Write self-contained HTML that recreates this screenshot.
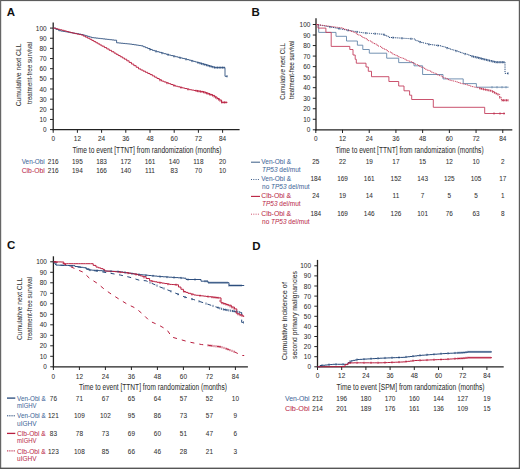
<!DOCTYPE html>
<html><head><meta charset="utf-8"><style>
html,body{margin:0;padding:0;background:#fff;width:520px;height:469px;overflow:hidden}
svg text{font-family:"Liberation Sans",sans-serif}
</style></head><body>
<svg width="520" height="469" viewBox="0 0 520 469" style="display:block"><rect x="0" y="0" width="520" height="1.1" fill="#5c5c5c"/>
<rect x="0" y="0" width="1.2" height="469" fill="#666"/>
<rect x="518.8" y="0" width="1.2" height="469" fill="#5c5c5c"/>
<rect x="0" y="467.6" width="520" height="1.4" fill="#555"/>
<text x="6.8" y="16.1" font-size="11.5" font-weight="bold" fill="#111" textLength="8.3" lengthAdjust="spacingAndGlyphs">A</text>
<text x="251.6" y="16.2" font-size="11.5" font-weight="bold" fill="#111" textLength="8.3" lengthAdjust="spacingAndGlyphs">B</text>
<text x="7.0" y="249.0" font-size="11.5" font-weight="bold" fill="#111" textLength="8.3" lengthAdjust="spacingAndGlyphs">C</text>
<text x="252.2" y="250.0" font-size="11.5" font-weight="bold" fill="#111" textLength="8.3" lengthAdjust="spacingAndGlyphs">D</text>
<line x1="53.20" y1="22.40" x2="53.20" y2="130.20" stroke="#222" stroke-width="1.3" />
<line x1="52.60" y1="129.60" x2="239.60" y2="129.60" stroke="#222" stroke-width="1.3" />
<line x1="50.00" y1="129.60" x2="53.20" y2="129.60" stroke="#222" stroke-width="1.0" />
<text x="46.60" y="132.10" font-size="7.0" fill="#303030" stroke="#303030" stroke-width="0.05" text-anchor="end" font-weight="normal" font-style="normal" textLength="3.58" lengthAdjust="spacingAndGlyphs">0</text>
<line x1="50.00" y1="119.45" x2="53.20" y2="119.45" stroke="#222" stroke-width="1.0" />
<text x="46.60" y="121.95" font-size="7.0" fill="#303030" stroke="#303030" stroke-width="0.05" text-anchor="end" font-weight="normal" font-style="normal" textLength="7.16" lengthAdjust="spacingAndGlyphs">10</text>
<line x1="50.00" y1="109.30" x2="53.20" y2="109.30" stroke="#222" stroke-width="1.0" />
<text x="46.60" y="111.80" font-size="7.0" fill="#303030" stroke="#303030" stroke-width="0.05" text-anchor="end" font-weight="normal" font-style="normal" textLength="7.16" lengthAdjust="spacingAndGlyphs">20</text>
<line x1="50.00" y1="99.15" x2="53.20" y2="99.15" stroke="#222" stroke-width="1.0" />
<text x="46.60" y="101.65" font-size="7.0" fill="#303030" stroke="#303030" stroke-width="0.05" text-anchor="end" font-weight="normal" font-style="normal" textLength="7.16" lengthAdjust="spacingAndGlyphs">30</text>
<line x1="50.00" y1="89.00" x2="53.20" y2="89.00" stroke="#222" stroke-width="1.0" />
<text x="46.60" y="91.50" font-size="7.0" fill="#303030" stroke="#303030" stroke-width="0.05" text-anchor="end" font-weight="normal" font-style="normal" textLength="7.16" lengthAdjust="spacingAndGlyphs">40</text>
<line x1="50.00" y1="78.85" x2="53.20" y2="78.85" stroke="#222" stroke-width="1.0" />
<text x="46.60" y="81.35" font-size="7.0" fill="#303030" stroke="#303030" stroke-width="0.05" text-anchor="end" font-weight="normal" font-style="normal" textLength="7.16" lengthAdjust="spacingAndGlyphs">50</text>
<line x1="50.00" y1="68.70" x2="53.20" y2="68.70" stroke="#222" stroke-width="1.0" />
<text x="46.60" y="71.20" font-size="7.0" fill="#303030" stroke="#303030" stroke-width="0.05" text-anchor="end" font-weight="normal" font-style="normal" textLength="7.16" lengthAdjust="spacingAndGlyphs">60</text>
<line x1="50.00" y1="58.55" x2="53.20" y2="58.55" stroke="#222" stroke-width="1.0" />
<text x="46.60" y="61.05" font-size="7.0" fill="#303030" stroke="#303030" stroke-width="0.05" text-anchor="end" font-weight="normal" font-style="normal" textLength="7.16" lengthAdjust="spacingAndGlyphs">70</text>
<line x1="50.00" y1="48.40" x2="53.20" y2="48.40" stroke="#222" stroke-width="1.0" />
<text x="46.60" y="50.90" font-size="7.0" fill="#303030" stroke="#303030" stroke-width="0.05" text-anchor="end" font-weight="normal" font-style="normal" textLength="7.16" lengthAdjust="spacingAndGlyphs">80</text>
<line x1="50.00" y1="38.25" x2="53.20" y2="38.25" stroke="#222" stroke-width="1.0" />
<text x="46.60" y="40.75" font-size="7.0" fill="#303030" stroke="#303030" stroke-width="0.05" text-anchor="end" font-weight="normal" font-style="normal" textLength="7.16" lengthAdjust="spacingAndGlyphs">90</text>
<line x1="50.00" y1="28.10" x2="53.20" y2="28.10" stroke="#222" stroke-width="1.0" />
<text x="46.60" y="30.60" font-size="7.0" fill="#303030" stroke="#303030" stroke-width="0.05" text-anchor="end" font-weight="normal" font-style="normal" textLength="10.74" lengthAdjust="spacingAndGlyphs">100</text>
<line x1="53.20" y1="129.60" x2="53.20" y2="132.80" stroke="#222" stroke-width="1.0" />
<text x="53.20" y="141.00" font-size="7.0" fill="#303030" stroke="#303030" stroke-width="0.05" text-anchor="middle" font-weight="normal" font-style="normal" textLength="3.58" lengthAdjust="spacingAndGlyphs">0</text>
<line x1="77.40" y1="129.60" x2="77.40" y2="132.80" stroke="#222" stroke-width="1.0" />
<text x="77.40" y="141.00" font-size="7.0" fill="#303030" stroke="#303030" stroke-width="0.05" text-anchor="middle" font-weight="normal" font-style="normal" textLength="7.16" lengthAdjust="spacingAndGlyphs">12</text>
<line x1="101.60" y1="129.60" x2="101.60" y2="132.80" stroke="#222" stroke-width="1.0" />
<text x="101.60" y="141.00" font-size="7.0" fill="#303030" stroke="#303030" stroke-width="0.05" text-anchor="middle" font-weight="normal" font-style="normal" textLength="7.16" lengthAdjust="spacingAndGlyphs">24</text>
<line x1="125.80" y1="129.60" x2="125.80" y2="132.80" stroke="#222" stroke-width="1.0" />
<text x="125.80" y="141.00" font-size="7.0" fill="#303030" stroke="#303030" stroke-width="0.05" text-anchor="middle" font-weight="normal" font-style="normal" textLength="7.16" lengthAdjust="spacingAndGlyphs">36</text>
<line x1="150.00" y1="129.60" x2="150.00" y2="132.80" stroke="#222" stroke-width="1.0" />
<text x="150.00" y="141.00" font-size="7.0" fill="#303030" stroke="#303030" stroke-width="0.05" text-anchor="middle" font-weight="normal" font-style="normal" textLength="7.16" lengthAdjust="spacingAndGlyphs">48</text>
<line x1="174.20" y1="129.60" x2="174.20" y2="132.80" stroke="#222" stroke-width="1.0" />
<text x="174.20" y="141.00" font-size="7.0" fill="#303030" stroke="#303030" stroke-width="0.05" text-anchor="middle" font-weight="normal" font-style="normal" textLength="7.16" lengthAdjust="spacingAndGlyphs">60</text>
<line x1="198.40" y1="129.60" x2="198.40" y2="132.80" stroke="#222" stroke-width="1.0" />
<text x="198.40" y="141.00" font-size="7.0" fill="#303030" stroke="#303030" stroke-width="0.05" text-anchor="middle" font-weight="normal" font-style="normal" textLength="7.16" lengthAdjust="spacingAndGlyphs">72</text>
<line x1="222.60" y1="129.60" x2="222.60" y2="132.80" stroke="#222" stroke-width="1.0" />
<text x="222.60" y="141.00" font-size="7.0" fill="#303030" stroke="#303030" stroke-width="0.05" text-anchor="middle" font-weight="normal" font-style="normal" textLength="7.16" lengthAdjust="spacingAndGlyphs">84</text>
<text x="21.40" y="106.30" font-size="7.8" fill="#303030" stroke="#303030" stroke-width="0.05" text-anchor="start" font-weight="normal" font-style="normal" textLength="62.80" lengthAdjust="spacingAndGlyphs" transform="rotate(-90 21.40 106.30)">Cumulative next CLL</text>
<text x="32.10" y="104.10" font-size="7.8" fill="#303030" stroke="#303030" stroke-width="0.05" text-anchor="start" font-weight="normal" font-style="normal" textLength="62.30" lengthAdjust="spacingAndGlyphs" transform="rotate(-90 32.10 104.10)">treatment-free survival</text>
<text x="72.50" y="152.60" font-size="8.5" fill="#303030" stroke="#303030" stroke-width="0.05" text-anchor="start" font-weight="normal" font-style="normal" textLength="149.00" lengthAdjust="spacingAndGlyphs">Time to event [TTNT] from randomization (months)</text>
<text x="21.70" y="163.60" font-size="7.0" fill="#44689a" stroke="#44689a" stroke-width="0.05" text-anchor="start" font-weight="normal" font-style="normal" textLength="23.10" lengthAdjust="spacingAndGlyphs">Ven-Obi</text>
<text x="21.70" y="173.00" font-size="7.0" fill="#bb2e4c" stroke="#bb2e4c" stroke-width="0.05" text-anchor="start" font-weight="normal" font-style="normal" textLength="23.10" lengthAdjust="spacingAndGlyphs">Clb-Obi</text>
<text x="53.20" y="163.60" font-size="7.0" fill="#303030" stroke="#303030" stroke-width="0.05" text-anchor="middle" font-weight="normal" font-style="normal" textLength="10.74" lengthAdjust="spacingAndGlyphs">216</text>
<text x="53.20" y="173.00" font-size="7.0" fill="#303030" stroke="#303030" stroke-width="0.05" text-anchor="middle" font-weight="normal" font-style="normal" textLength="10.74" lengthAdjust="spacingAndGlyphs">216</text>
<text x="77.40" y="163.60" font-size="7.0" fill="#303030" stroke="#303030" stroke-width="0.05" text-anchor="middle" font-weight="normal" font-style="normal" textLength="10.74" lengthAdjust="spacingAndGlyphs">195</text>
<text x="77.40" y="173.00" font-size="7.0" fill="#303030" stroke="#303030" stroke-width="0.05" text-anchor="middle" font-weight="normal" font-style="normal" textLength="10.74" lengthAdjust="spacingAndGlyphs">194</text>
<text x="101.60" y="163.60" font-size="7.0" fill="#303030" stroke="#303030" stroke-width="0.05" text-anchor="middle" font-weight="normal" font-style="normal" textLength="10.74" lengthAdjust="spacingAndGlyphs">183</text>
<text x="101.60" y="173.00" font-size="7.0" fill="#303030" stroke="#303030" stroke-width="0.05" text-anchor="middle" font-weight="normal" font-style="normal" textLength="10.74" lengthAdjust="spacingAndGlyphs">166</text>
<text x="125.80" y="163.60" font-size="7.0" fill="#303030" stroke="#303030" stroke-width="0.05" text-anchor="middle" font-weight="normal" font-style="normal" textLength="10.74" lengthAdjust="spacingAndGlyphs">172</text>
<text x="125.80" y="173.00" font-size="7.0" fill="#303030" stroke="#303030" stroke-width="0.05" text-anchor="middle" font-weight="normal" font-style="normal" textLength="10.74" lengthAdjust="spacingAndGlyphs">140</text>
<text x="150.00" y="163.60" font-size="7.0" fill="#303030" stroke="#303030" stroke-width="0.05" text-anchor="middle" font-weight="normal" font-style="normal" textLength="10.74" lengthAdjust="spacingAndGlyphs">161</text>
<text x="150.00" y="173.00" font-size="7.0" fill="#303030" stroke="#303030" stroke-width="0.05" text-anchor="middle" font-weight="normal" font-style="normal" textLength="9.79" lengthAdjust="spacingAndGlyphs">111</text>
<text x="174.20" y="163.60" font-size="7.0" fill="#303030" stroke="#303030" stroke-width="0.05" text-anchor="middle" font-weight="normal" font-style="normal" textLength="10.74" lengthAdjust="spacingAndGlyphs">140</text>
<text x="174.20" y="173.00" font-size="7.0" fill="#303030" stroke="#303030" stroke-width="0.05" text-anchor="middle" font-weight="normal" font-style="normal" textLength="7.16" lengthAdjust="spacingAndGlyphs">83</text>
<text x="198.40" y="163.60" font-size="7.0" fill="#303030" stroke="#303030" stroke-width="0.05" text-anchor="middle" font-weight="normal" font-style="normal" textLength="10.27" lengthAdjust="spacingAndGlyphs">118</text>
<text x="198.40" y="173.00" font-size="7.0" fill="#303030" stroke="#303030" stroke-width="0.05" text-anchor="middle" font-weight="normal" font-style="normal" textLength="7.16" lengthAdjust="spacingAndGlyphs">70</text>
<text x="222.60" y="163.60" font-size="7.0" fill="#303030" stroke="#303030" stroke-width="0.05" text-anchor="middle" font-weight="normal" font-style="normal" textLength="7.16" lengthAdjust="spacingAndGlyphs">20</text>
<text x="222.60" y="173.00" font-size="7.0" fill="#303030" stroke="#303030" stroke-width="0.05" text-anchor="middle" font-weight="normal" font-style="normal" textLength="7.16" lengthAdjust="spacingAndGlyphs">10</text>
<path d="M53.20,28.10 H55.95 V29.40 H58.70 V30.70 H60.94 V31.08 H63.18 V31.46 H65.42 V31.84 H67.66 V32.22 H69.90 V32.60 H72.14 V32.98 H74.38 V33.36 H76.62 V33.74 H78.86 V34.12 H81.10 V34.50 H83.18 V35.12 H85.26 V35.74 H87.34 V36.36 H89.42 V36.98 H91.50 V37.60 H93.75 V37.86 H96.00 V38.12 H98.25 V38.38 H100.50 V38.64 H102.75 V38.90 H105.00 V39.16 H107.25 V39.42 H109.50 V39.68 H111.75 V39.94 H114.00 V40.20 H116.60 V42.80 H118.77 V43.02 H120.93 V43.23 H123.10 V43.45 H125.27 V43.67 H127.43 V43.88 H129.60 V44.10 H131.84 V44.44 H134.08 V44.78 H136.32 V45.12 H138.56 V45.46 H140.80 V45.80 H143.10 V46.72 H145.40 V47.64 H147.70 V48.56 H150.00 V49.48 H152.30 V50.40 H154.61 V51.06 H156.93 V51.71 H159.24 V52.37 H161.56 V53.03 H163.87 V53.69 H166.19 V54.34 H168.50 V55.00 H170.81 V55.58 H173.12 V56.15 H175.44 V56.73 H177.75 V57.30 H180.06 V57.88 H182.38 V58.45 H184.69 V59.02 H187.00 V59.60 H189.10 V60.20 H191.20 V60.80 H193.30 V61.40 H195.40 V62.00 H197.50 V62.60 H199.60 V63.20 H201.70 V63.80 H203.80 V64.40 H205.96 V65.04 H208.12 V65.68 H210.28 V66.32 H212.44 V66.96 H214.60 V67.60 H225.00 V76.3 H227.4" fill="none" stroke="#26497a" stroke-width="0.85" stroke-linejoin="miter" />
<path d="M53.20,28.10 H55.50 V28.70 H57.80 V29.30 H59.90 V29.80 H62.00 V30.30 H64.20 V30.90 H66.40 V31.50 H68.60 V32.10 H70.80 V32.70 H72.86 V33.16 H74.92 V33.62 H76.98 V34.08 H79.04 V34.54 H81.10 V35.00 H83.27 V36.08 H85.45 V37.15 H87.62 V38.22 H89.80 V39.30 H91.82 V40.45 H93.83 V41.60 H95.85 V42.75 H97.87 V43.90 H99.88 V45.05 H101.90 V46.20 H104.32 V47.58 H106.74 V48.96 H109.16 V50.34 H111.58 V51.72 H114.00 V53.10 H116.08 V54.32 H118.16 V55.54 H120.24 V56.76 H122.32 V57.98 H124.40 V59.20 H126.75 V60.82 H129.10 V62.43 H131.45 V64.05 H133.80 V65.67 H136.15 V67.28 H138.50 V68.90 H140.80 V70.04 H143.10 V71.18 H145.40 V72.32 H147.70 V73.46 H150.00 V74.60 H152.32 V75.90 H154.64 V77.20 H156.96 V78.50 H159.28 V79.80 H161.60 V81.10 H163.90 V81.95 H166.20 V82.80 H168.50 V83.65 H170.80 V84.50 H173.10 V85.35 H175.40 V86.20 H177.72 V86.78 H180.03 V87.37 H182.35 V87.95 H184.67 V88.53 H186.98 V89.12 H189.30 V89.70 H191.60 V90.08 H193.90 V90.47 H196.20 V90.85 H198.50 V91.23 H200.80 V91.62 H203.10 V92.00 H205.43 V92.85 H207.75 V93.70 H210.07 V94.55 H212.40 V95.40 H214.70 V96.93 H217.00 V98.47 H219.30 V100.00 H221.60 V102.40 H227.40" fill="none" stroke="#b91f3f" stroke-width="0.95" stroke-linejoin="miter" />
<line x1="150.00" y1="48.38" x2="150.00" y2="50.58" stroke="#26497a" stroke-width="0.8"/>
<line x1="156.00" y1="50.35" x2="156.00" y2="52.55" stroke="#26497a" stroke-width="0.8"/>
<line x1="162.00" y1="52.05" x2="162.00" y2="54.25" stroke="#26497a" stroke-width="0.8"/>
<line x1="168.00" y1="53.76" x2="168.00" y2="55.96" stroke="#26497a" stroke-width="0.8"/>
<line x1="174.00" y1="55.27" x2="174.00" y2="57.47" stroke="#26497a" stroke-width="0.8"/>
<line x1="180.00" y1="56.76" x2="180.00" y2="58.96" stroke="#26497a" stroke-width="0.8"/>
<line x1="186.00" y1="58.25" x2="186.00" y2="60.45" stroke="#26497a" stroke-width="0.8"/>
<line x1="192.00" y1="59.93" x2="192.00" y2="62.13" stroke="#26497a" stroke-width="0.8"/>
<line x1="198.00" y1="61.64" x2="198.00" y2="63.84" stroke="#26497a" stroke-width="0.8"/>
<line x1="200.00" y1="62.21" x2="200.00" y2="64.41" stroke="#26497a" stroke-width="0.8"/>
<line x1="201.60" y1="62.67" x2="201.60" y2="64.87" stroke="#26497a" stroke-width="0.8"/>
<line x1="203.20" y1="63.13" x2="203.20" y2="65.33" stroke="#26497a" stroke-width="0.8"/>
<line x1="204.80" y1="63.60" x2="204.80" y2="65.80" stroke="#26497a" stroke-width="0.8"/>
<line x1="206.40" y1="64.07" x2="206.40" y2="66.27" stroke="#26497a" stroke-width="0.8"/>
<line x1="208.00" y1="64.54" x2="208.00" y2="66.74" stroke="#26497a" stroke-width="0.8"/>
<line x1="209.60" y1="65.02" x2="209.60" y2="67.22" stroke="#26497a" stroke-width="0.8"/>
<line x1="211.20" y1="65.49" x2="211.20" y2="67.69" stroke="#26497a" stroke-width="0.8"/>
<line x1="212.80" y1="65.97" x2="212.80" y2="68.17" stroke="#26497a" stroke-width="0.8"/>
<line x1="214.40" y1="66.44" x2="214.40" y2="68.64" stroke="#26497a" stroke-width="0.8"/>
<line x1="216.00" y1="66.50" x2="216.00" y2="68.70" stroke="#26497a" stroke-width="0.8"/>
<line x1="217.60" y1="66.50" x2="217.60" y2="68.70" stroke="#26497a" stroke-width="0.8"/>
<line x1="219.20" y1="66.50" x2="219.20" y2="68.70" stroke="#26497a" stroke-width="0.8"/>
<line x1="220.80" y1="66.50" x2="220.80" y2="68.70" stroke="#26497a" stroke-width="0.8"/>
<line x1="222.40" y1="66.50" x2="222.40" y2="68.70" stroke="#26497a" stroke-width="0.8"/>
<line x1="224.00" y1="66.50" x2="224.00" y2="68.70" stroke="#26497a" stroke-width="0.8"/>
<line x1="227.00" y1="75.20" x2="227.00" y2="77.40" stroke="#26497a" stroke-width="0.8"/>
<line x1="160.00" y1="79.10" x2="160.00" y2="81.30" stroke="#b91f3f" stroke-width="0.8"/>
<line x1="167.00" y1="82.00" x2="167.00" y2="84.20" stroke="#b91f3f" stroke-width="0.8"/>
<line x1="174.00" y1="84.58" x2="174.00" y2="86.78" stroke="#b91f3f" stroke-width="0.8"/>
<line x1="181.00" y1="86.51" x2="181.00" y2="88.71" stroke="#b91f3f" stroke-width="0.8"/>
<line x1="188.00" y1="88.27" x2="188.00" y2="90.47" stroke="#b91f3f" stroke-width="0.8"/>
<line x1="196.00" y1="89.72" x2="196.00" y2="91.92" stroke="#b91f3f" stroke-width="0.8"/>
<line x1="197.50" y1="89.97" x2="197.50" y2="92.17" stroke="#b91f3f" stroke-width="0.8"/>
<line x1="199.00" y1="90.22" x2="199.00" y2="92.42" stroke="#b91f3f" stroke-width="0.8"/>
<line x1="200.50" y1="90.47" x2="200.50" y2="92.67" stroke="#b91f3f" stroke-width="0.8"/>
<line x1="202.00" y1="90.72" x2="202.00" y2="92.92" stroke="#b91f3f" stroke-width="0.8"/>
<line x1="203.50" y1="91.05" x2="203.50" y2="93.25" stroke="#b91f3f" stroke-width="0.8"/>
<line x1="205.00" y1="91.59" x2="205.00" y2="93.79" stroke="#b91f3f" stroke-width="0.8"/>
<line x1="206.50" y1="92.14" x2="206.50" y2="94.34" stroke="#b91f3f" stroke-width="0.8"/>
<line x1="208.00" y1="92.69" x2="208.00" y2="94.89" stroke="#b91f3f" stroke-width="0.8"/>
<line x1="209.50" y1="93.24" x2="209.50" y2="95.44" stroke="#b91f3f" stroke-width="0.8"/>
<line x1="211.00" y1="93.79" x2="211.00" y2="95.99" stroke="#b91f3f" stroke-width="0.8"/>
<line x1="212.50" y1="94.37" x2="212.50" y2="96.57" stroke="#b91f3f" stroke-width="0.8"/>
<line x1="214.00" y1="95.37" x2="214.00" y2="97.57" stroke="#b91f3f" stroke-width="0.8"/>
<line x1="215.50" y1="96.37" x2="215.50" y2="98.57" stroke="#b91f3f" stroke-width="0.8"/>
<line x1="217.00" y1="97.37" x2="217.00" y2="99.57" stroke="#b91f3f" stroke-width="0.8"/>
<line x1="218.50" y1="98.37" x2="218.50" y2="100.57" stroke="#b91f3f" stroke-width="0.8"/>
<line x1="220.00" y1="99.63" x2="220.00" y2="101.83" stroke="#b91f3f" stroke-width="0.8"/>
<line x1="221.50" y1="101.20" x2="221.50" y2="103.40" stroke="#b91f3f" stroke-width="0.8"/>
<line x1="223.00" y1="101.30" x2="223.00" y2="103.50" stroke="#b91f3f" stroke-width="0.8"/>
<line x1="224.50" y1="101.30" x2="224.50" y2="103.50" stroke="#b91f3f" stroke-width="0.8"/>
<line x1="226.00" y1="101.30" x2="226.00" y2="103.50" stroke="#b91f3f" stroke-width="0.8"/>
<line x1="316.00" y1="18.30" x2="316.00" y2="130.40" stroke="#222" stroke-width="1.3" />
<line x1="315.40" y1="129.80" x2="512.30" y2="129.80" stroke="#222" stroke-width="1.3" />
<line x1="312.80" y1="129.80" x2="316.00" y2="129.80" stroke="#222" stroke-width="1.0" />
<text x="310.30" y="132.30" font-size="7.0" fill="#303030" stroke="#303030" stroke-width="0.05" text-anchor="end" font-weight="normal" font-style="normal" textLength="3.58" lengthAdjust="spacingAndGlyphs">0</text>
<line x1="312.80" y1="119.27" x2="316.00" y2="119.27" stroke="#222" stroke-width="1.0" />
<text x="310.30" y="121.77" font-size="7.0" fill="#303030" stroke="#303030" stroke-width="0.05" text-anchor="end" font-weight="normal" font-style="normal" textLength="7.16" lengthAdjust="spacingAndGlyphs">10</text>
<line x1="312.80" y1="108.74" x2="316.00" y2="108.74" stroke="#222" stroke-width="1.0" />
<text x="310.30" y="111.24" font-size="7.0" fill="#303030" stroke="#303030" stroke-width="0.05" text-anchor="end" font-weight="normal" font-style="normal" textLength="7.16" lengthAdjust="spacingAndGlyphs">20</text>
<line x1="312.80" y1="98.21" x2="316.00" y2="98.21" stroke="#222" stroke-width="1.0" />
<text x="310.30" y="100.71" font-size="7.0" fill="#303030" stroke="#303030" stroke-width="0.05" text-anchor="end" font-weight="normal" font-style="normal" textLength="7.16" lengthAdjust="spacingAndGlyphs">30</text>
<line x1="312.80" y1="87.68" x2="316.00" y2="87.68" stroke="#222" stroke-width="1.0" />
<text x="310.30" y="90.18" font-size="7.0" fill="#303030" stroke="#303030" stroke-width="0.05" text-anchor="end" font-weight="normal" font-style="normal" textLength="7.16" lengthAdjust="spacingAndGlyphs">40</text>
<line x1="312.80" y1="77.15" x2="316.00" y2="77.15" stroke="#222" stroke-width="1.0" />
<text x="310.30" y="79.65" font-size="7.0" fill="#303030" stroke="#303030" stroke-width="0.05" text-anchor="end" font-weight="normal" font-style="normal" textLength="7.16" lengthAdjust="spacingAndGlyphs">50</text>
<line x1="312.80" y1="66.62" x2="316.00" y2="66.62" stroke="#222" stroke-width="1.0" />
<text x="310.30" y="69.12" font-size="7.0" fill="#303030" stroke="#303030" stroke-width="0.05" text-anchor="end" font-weight="normal" font-style="normal" textLength="7.16" lengthAdjust="spacingAndGlyphs">60</text>
<line x1="312.80" y1="56.09" x2="316.00" y2="56.09" stroke="#222" stroke-width="1.0" />
<text x="310.30" y="58.59" font-size="7.0" fill="#303030" stroke="#303030" stroke-width="0.05" text-anchor="end" font-weight="normal" font-style="normal" textLength="7.16" lengthAdjust="spacingAndGlyphs">70</text>
<line x1="312.80" y1="45.56" x2="316.00" y2="45.56" stroke="#222" stroke-width="1.0" />
<text x="310.30" y="48.06" font-size="7.0" fill="#303030" stroke="#303030" stroke-width="0.05" text-anchor="end" font-weight="normal" font-style="normal" textLength="7.16" lengthAdjust="spacingAndGlyphs">80</text>
<line x1="312.80" y1="35.03" x2="316.00" y2="35.03" stroke="#222" stroke-width="1.0" />
<text x="310.30" y="37.53" font-size="7.0" fill="#303030" stroke="#303030" stroke-width="0.05" text-anchor="end" font-weight="normal" font-style="normal" textLength="7.16" lengthAdjust="spacingAndGlyphs">90</text>
<line x1="312.80" y1="24.50" x2="316.00" y2="24.50" stroke="#222" stroke-width="1.0" />
<text x="310.30" y="27.00" font-size="7.0" fill="#303030" stroke="#303030" stroke-width="0.05" text-anchor="end" font-weight="normal" font-style="normal" textLength="10.74" lengthAdjust="spacingAndGlyphs">100</text>
<line x1="315.80" y1="129.80" x2="315.80" y2="133.00" stroke="#222" stroke-width="1.0" />
<text x="315.80" y="141.00" font-size="7.0" fill="#303030" stroke="#303030" stroke-width="0.05" text-anchor="middle" font-weight="normal" font-style="normal" textLength="3.58" lengthAdjust="spacingAndGlyphs">0</text>
<line x1="342.51" y1="129.80" x2="342.51" y2="133.00" stroke="#222" stroke-width="1.0" />
<text x="342.51" y="141.00" font-size="7.0" fill="#303030" stroke="#303030" stroke-width="0.05" text-anchor="middle" font-weight="normal" font-style="normal" textLength="7.16" lengthAdjust="spacingAndGlyphs">12</text>
<line x1="369.22" y1="129.80" x2="369.22" y2="133.00" stroke="#222" stroke-width="1.0" />
<text x="369.22" y="141.00" font-size="7.0" fill="#303030" stroke="#303030" stroke-width="0.05" text-anchor="middle" font-weight="normal" font-style="normal" textLength="7.16" lengthAdjust="spacingAndGlyphs">24</text>
<line x1="395.93" y1="129.80" x2="395.93" y2="133.00" stroke="#222" stroke-width="1.0" />
<text x="395.93" y="141.00" font-size="7.0" fill="#303030" stroke="#303030" stroke-width="0.05" text-anchor="middle" font-weight="normal" font-style="normal" textLength="7.16" lengthAdjust="spacingAndGlyphs">36</text>
<line x1="422.64" y1="129.80" x2="422.64" y2="133.00" stroke="#222" stroke-width="1.0" />
<text x="422.64" y="141.00" font-size="7.0" fill="#303030" stroke="#303030" stroke-width="0.05" text-anchor="middle" font-weight="normal" font-style="normal" textLength="7.16" lengthAdjust="spacingAndGlyphs">48</text>
<line x1="449.35" y1="129.80" x2="449.35" y2="133.00" stroke="#222" stroke-width="1.0" />
<text x="449.35" y="141.00" font-size="7.0" fill="#303030" stroke="#303030" stroke-width="0.05" text-anchor="middle" font-weight="normal" font-style="normal" textLength="7.16" lengthAdjust="spacingAndGlyphs">60</text>
<line x1="476.06" y1="129.80" x2="476.06" y2="133.00" stroke="#222" stroke-width="1.0" />
<text x="476.06" y="141.00" font-size="7.0" fill="#303030" stroke="#303030" stroke-width="0.05" text-anchor="middle" font-weight="normal" font-style="normal" textLength="7.16" lengthAdjust="spacingAndGlyphs">72</text>
<line x1="502.77" y1="129.80" x2="502.77" y2="133.00" stroke="#222" stroke-width="1.0" />
<text x="502.77" y="141.00" font-size="7.0" fill="#303030" stroke="#303030" stroke-width="0.05" text-anchor="middle" font-weight="normal" font-style="normal" textLength="7.16" lengthAdjust="spacingAndGlyphs">84</text>
<text x="284.60" y="99.80" font-size="7.2" fill="#303030" stroke="#303030" stroke-width="0.05" text-anchor="start" font-weight="normal" font-style="normal" textLength="56.80" lengthAdjust="spacingAndGlyphs" transform="rotate(-90 284.60 99.80)">Cumulative next CLL</text>
<text x="293.90" y="99.00" font-size="7.2" fill="#303030" stroke="#303030" stroke-width="0.05" text-anchor="start" font-weight="normal" font-style="normal" textLength="58.40" lengthAdjust="spacingAndGlyphs" transform="rotate(-90 293.90 99.00)">treatment-free survival</text>
<text x="335.60" y="152.50" font-size="8.5" fill="#303030" stroke="#303030" stroke-width="0.05" text-anchor="start" font-weight="normal" font-style="normal" textLength="148.00" lengthAdjust="spacingAndGlyphs">Time to event [TTNT] from randomization (months)</text>
<line x1="251.00" y1="162.20" x2="260.00" y2="162.20" stroke="#4a6a90" stroke-width="1.1" />
<text x="261.30" y="164.00" font-size="7.2" fill="#44689a" stroke="#44689a" stroke-width="0.05" text-anchor="start" font-weight="normal" font-style="normal" textLength="29.80" lengthAdjust="spacingAndGlyphs">Ven-Obi &</text>
<text x="262.1" y="172.0" font-size="7.2" fill="#44689a" stroke="#44689a" stroke-width="0.05" textLength="38.5" lengthAdjust="spacingAndGlyphs"><tspan font-style="italic">TP53</tspan> del/mut</text>
<text x="315.80" y="164.00" font-size="7.0" fill="#303030" stroke="#303030" stroke-width="0.05" text-anchor="middle" font-weight="normal" font-style="normal" textLength="7.16" lengthAdjust="spacingAndGlyphs">25</text>
<text x="342.51" y="164.00" font-size="7.0" fill="#303030" stroke="#303030" stroke-width="0.05" text-anchor="middle" font-weight="normal" font-style="normal" textLength="7.16" lengthAdjust="spacingAndGlyphs">22</text>
<text x="369.22" y="164.00" font-size="7.0" fill="#303030" stroke="#303030" stroke-width="0.05" text-anchor="middle" font-weight="normal" font-style="normal" textLength="7.16" lengthAdjust="spacingAndGlyphs">19</text>
<text x="395.93" y="164.00" font-size="7.0" fill="#303030" stroke="#303030" stroke-width="0.05" text-anchor="middle" font-weight="normal" font-style="normal" textLength="7.16" lengthAdjust="spacingAndGlyphs">17</text>
<text x="422.64" y="164.00" font-size="7.0" fill="#303030" stroke="#303030" stroke-width="0.05" text-anchor="middle" font-weight="normal" font-style="normal" textLength="7.16" lengthAdjust="spacingAndGlyphs">15</text>
<text x="449.35" y="164.00" font-size="7.0" fill="#303030" stroke="#303030" stroke-width="0.05" text-anchor="middle" font-weight="normal" font-style="normal" textLength="7.16" lengthAdjust="spacingAndGlyphs">12</text>
<text x="476.06" y="164.00" font-size="7.0" fill="#303030" stroke="#303030" stroke-width="0.05" text-anchor="middle" font-weight="normal" font-style="normal" textLength="7.16" lengthAdjust="spacingAndGlyphs">10</text>
<text x="502.77" y="164.00" font-size="7.0" fill="#303030" stroke="#303030" stroke-width="0.05" text-anchor="middle" font-weight="normal" font-style="normal" textLength="3.58" lengthAdjust="spacingAndGlyphs">2</text>
<line x1="251.00" y1="179.50" x2="260.00" y2="179.50" stroke="#26497a" stroke-width="0.9" stroke-dasharray="1 1.3"/>
<text x="261.30" y="181.30" font-size="7.2" fill="#44689a" stroke="#44689a" stroke-width="0.05" text-anchor="start" font-weight="normal" font-style="normal" textLength="29.80" lengthAdjust="spacingAndGlyphs">Ven-Obi &</text>
<text x="262.1" y="188.7" font-size="7.2" fill="#44689a" stroke="#44689a" stroke-width="0.05" textLength="47.5" lengthAdjust="spacingAndGlyphs">no <tspan font-style="italic">TP53</tspan> del/mut</text>
<text x="315.80" y="181.30" font-size="7.0" fill="#303030" stroke="#303030" stroke-width="0.05" text-anchor="middle" font-weight="normal" font-style="normal" textLength="10.74" lengthAdjust="spacingAndGlyphs">184</text>
<text x="342.51" y="181.30" font-size="7.0" fill="#303030" stroke="#303030" stroke-width="0.05" text-anchor="middle" font-weight="normal" font-style="normal" textLength="10.74" lengthAdjust="spacingAndGlyphs">169</text>
<text x="369.22" y="181.30" font-size="7.0" fill="#303030" stroke="#303030" stroke-width="0.05" text-anchor="middle" font-weight="normal" font-style="normal" textLength="10.74" lengthAdjust="spacingAndGlyphs">161</text>
<text x="395.93" y="181.30" font-size="7.0" fill="#303030" stroke="#303030" stroke-width="0.05" text-anchor="middle" font-weight="normal" font-style="normal" textLength="10.74" lengthAdjust="spacingAndGlyphs">152</text>
<text x="422.64" y="181.30" font-size="7.0" fill="#303030" stroke="#303030" stroke-width="0.05" text-anchor="middle" font-weight="normal" font-style="normal" textLength="10.74" lengthAdjust="spacingAndGlyphs">143</text>
<text x="449.35" y="181.30" font-size="7.0" fill="#303030" stroke="#303030" stroke-width="0.05" text-anchor="middle" font-weight="normal" font-style="normal" textLength="10.74" lengthAdjust="spacingAndGlyphs">125</text>
<text x="476.06" y="181.30" font-size="7.0" fill="#303030" stroke="#303030" stroke-width="0.05" text-anchor="middle" font-weight="normal" font-style="normal" textLength="10.74" lengthAdjust="spacingAndGlyphs">105</text>
<text x="502.77" y="181.30" font-size="7.0" fill="#303030" stroke="#303030" stroke-width="0.05" text-anchor="middle" font-weight="normal" font-style="normal" textLength="7.16" lengthAdjust="spacingAndGlyphs">17</text>
<line x1="251.00" y1="196.40" x2="260.00" y2="196.40" stroke="#b91f3f" stroke-width="1.1" />
<text x="261.30" y="198.20" font-size="7.2" fill="#bb2e4c" stroke="#bb2e4c" stroke-width="0.05" text-anchor="start" font-weight="normal" font-style="normal" textLength="29.80" lengthAdjust="spacingAndGlyphs">Clb-Obi &</text>
<text x="262.1" y="206.3" font-size="7.2" fill="#bb2e4c" stroke="#bb2e4c" stroke-width="0.05" textLength="38.5" lengthAdjust="spacingAndGlyphs"><tspan font-style="italic">TP53</tspan> del/mut</text>
<text x="315.80" y="198.20" font-size="7.0" fill="#303030" stroke="#303030" stroke-width="0.05" text-anchor="middle" font-weight="normal" font-style="normal" textLength="7.16" lengthAdjust="spacingAndGlyphs">24</text>
<text x="342.51" y="198.20" font-size="7.0" fill="#303030" stroke="#303030" stroke-width="0.05" text-anchor="middle" font-weight="normal" font-style="normal" textLength="7.16" lengthAdjust="spacingAndGlyphs">19</text>
<text x="369.22" y="198.20" font-size="7.0" fill="#303030" stroke="#303030" stroke-width="0.05" text-anchor="middle" font-weight="normal" font-style="normal" textLength="7.16" lengthAdjust="spacingAndGlyphs">14</text>
<text x="395.93" y="198.20" font-size="7.0" fill="#303030" stroke="#303030" stroke-width="0.05" text-anchor="middle" font-weight="normal" font-style="normal" textLength="6.68" lengthAdjust="spacingAndGlyphs">11</text>
<text x="422.64" y="198.20" font-size="7.0" fill="#303030" stroke="#303030" stroke-width="0.05" text-anchor="middle" font-weight="normal" font-style="normal" textLength="3.58" lengthAdjust="spacingAndGlyphs">7</text>
<text x="449.35" y="198.20" font-size="7.0" fill="#303030" stroke="#303030" stroke-width="0.05" text-anchor="middle" font-weight="normal" font-style="normal" textLength="3.58" lengthAdjust="spacingAndGlyphs">5</text>
<text x="476.06" y="198.20" font-size="7.0" fill="#303030" stroke="#303030" stroke-width="0.05" text-anchor="middle" font-weight="normal" font-style="normal" textLength="3.58" lengthAdjust="spacingAndGlyphs">5</text>
<text x="502.77" y="198.20" font-size="7.0" fill="#303030" stroke="#303030" stroke-width="0.05" text-anchor="middle" font-weight="normal" font-style="normal" textLength="3.58" lengthAdjust="spacingAndGlyphs">1</text>
<line x1="251.00" y1="214.20" x2="260.00" y2="214.20" stroke="#c8405e" stroke-width="0.9" stroke-dasharray="1 1.3"/>
<text x="261.30" y="216.00" font-size="7.2" fill="#bb2e4c" stroke="#bb2e4c" stroke-width="0.05" text-anchor="start" font-weight="normal" font-style="normal" textLength="29.80" lengthAdjust="spacingAndGlyphs">Clb-Obi &</text>
<text x="262.1" y="223.8" font-size="7.2" fill="#bb2e4c" stroke="#bb2e4c" stroke-width="0.05" textLength="47.5" lengthAdjust="spacingAndGlyphs">no <tspan font-style="italic">TP53</tspan> del/mut</text>
<text x="315.80" y="216.00" font-size="7.0" fill="#303030" stroke="#303030" stroke-width="0.05" text-anchor="middle" font-weight="normal" font-style="normal" textLength="10.74" lengthAdjust="spacingAndGlyphs">184</text>
<text x="342.51" y="216.00" font-size="7.0" fill="#303030" stroke="#303030" stroke-width="0.05" text-anchor="middle" font-weight="normal" font-style="normal" textLength="10.74" lengthAdjust="spacingAndGlyphs">169</text>
<text x="369.22" y="216.00" font-size="7.0" fill="#303030" stroke="#303030" stroke-width="0.05" text-anchor="middle" font-weight="normal" font-style="normal" textLength="10.74" lengthAdjust="spacingAndGlyphs">146</text>
<text x="395.93" y="216.00" font-size="7.0" fill="#303030" stroke="#303030" stroke-width="0.05" text-anchor="middle" font-weight="normal" font-style="normal" textLength="10.74" lengthAdjust="spacingAndGlyphs">126</text>
<text x="422.64" y="216.00" font-size="7.0" fill="#303030" stroke="#303030" stroke-width="0.05" text-anchor="middle" font-weight="normal" font-style="normal" textLength="10.74" lengthAdjust="spacingAndGlyphs">101</text>
<text x="449.35" y="216.00" font-size="7.0" fill="#303030" stroke="#303030" stroke-width="0.05" text-anchor="middle" font-weight="normal" font-style="normal" textLength="7.16" lengthAdjust="spacingAndGlyphs">76</text>
<text x="476.06" y="216.00" font-size="7.0" fill="#303030" stroke="#303030" stroke-width="0.05" text-anchor="middle" font-weight="normal" font-style="normal" textLength="7.16" lengthAdjust="spacingAndGlyphs">63</text>
<text x="502.77" y="216.00" font-size="7.0" fill="#303030" stroke="#303030" stroke-width="0.05" text-anchor="middle" font-weight="normal" font-style="normal" textLength="3.58" lengthAdjust="spacingAndGlyphs">8</text>
<path d="M316.00,24.50 H318.70 V32.40 H336.00 V36.30 H346.50 V41.00 H357.40 V45.20 H362.80 V49.50 H369.30 V53.20 H386.70 V58.20 H398.70 V62.60 H414.00 V65.80 H422.60 V74.50 H443.00 V78.90 H463.20 V83.60 H476.40 V87.20 H508.6" fill="none" stroke="#6587aa" stroke-width="0.9" stroke-linejoin="miter" />
<path d="M316.00,24.50 H318.00 V28.10 H325.90 V32.40 H331.20 V46.40 H349.80 V49.50 H353.00 V55.00 H355.20 V59.30 H356.30 V63.20 H366.00 V67.00 H368.30 V71.30 H371.50 V76.70 H388.90 V81.50 H398.70 V86.00 H404.00 V90.80 H409.60 V95.20 H411.70 V99.50 H433.30 V107.30 H484.70 V113.50 H505" fill="none" stroke="#c4405e" stroke-width="0.9" stroke-linejoin="miter" />
<path d="M316.00,24.50 H318.00 V24.87 H320.00 V25.23 H322.00 V25.60 H324.00 V25.97 H326.00 V26.33 H328.00 V26.70 H330.00 V27.07 H332.00 V27.43 H334.00 V27.80 H336.00 V28.17 H338.00 V28.53 H340.00 V28.90 H341.97 V29.25 H343.95 V29.61 H345.92 V29.96 H347.89 V30.32 H349.86 V30.67 H351.84 V31.03 H353.81 V31.38 H355.78 V31.74 H357.75 V32.09 H359.73 V32.45 H361.70 V32.80 H363.64 V32.94 H365.57 V33.07 H367.51 V33.21 H369.45 V33.35 H371.38 V33.48 H373.32 V33.62 H375.25 V33.75 H377.19 V33.89 H379.13 V34.03 H381.06 V34.16 H383.00 V34.30 H384.83 V35.33 H386.67 V36.37 H388.50 V37.40 H390.48 V37.52 H392.47 V37.65 H394.45 V37.77 H396.43 V37.90 H398.42 V38.02 H400.40 V38.15 H402.38 V38.27 H404.37 V38.40 H406.35 V38.52 H408.33 V38.65 H410.32 V38.77 H412.30 V38.90 H414.65 V40.05 H417.00 V41.20 H419.14 V41.82 H421.28 V42.44 H423.42 V43.06 H425.56 V43.68 H427.70 V44.30 H429.75 V44.55 H431.80 V44.80 H433.85 V45.05 H435.90 V45.30 H437.95 V45.55 H440.00 V45.80 H441.98 V46.45 H443.95 V47.10 H445.93 V47.75 H447.90 V48.40 H449.88 V49.05 H451.85 V49.70 H453.82 V50.35 H455.80 V51.00 H457.78 V51.65 H459.75 V52.30 H461.73 V52.95 H463.70 V53.60 H465.68 V54.25 H467.65 V54.90 H469.62 V55.55 H471.60 V56.20 H473.66 V56.71 H475.71 V57.23 H477.77 V57.74 H479.83 V58.26 H481.89 V58.77 H483.94 V59.29 H486.00 V59.80 H487.90 V60.28 H489.80 V60.76 H491.70 V61.24 H493.60 V61.72 H495.50 V62.20 H505.00 V73.4 H508.6" fill="none" stroke="#26497a" stroke-width="1.0" stroke-linejoin="miter" stroke-dasharray="1.2 1.0"/>
<path d="M316.00,24.50 H318.00 V24.77 H320.00 V25.05 H322.00 V25.32 H324.00 V25.60 H326.00 V25.88 H328.00 V26.15 H330.00 V26.43 H332.00 V26.70 H334.00 V26.98 H336.00 V27.25 H338.00 V27.53 H340.00 V27.80 H342.17 V28.52 H344.33 V29.23 H346.50 V29.95 H348.67 V30.67 H350.83 V31.38 H353.00 V32.10 H354.96 V33.19 H356.92 V34.28 H358.88 V35.37 H360.84 V36.46 H362.80 V37.55 H364.76 V38.64 H366.72 V39.73 H368.68 V40.82 H370.64 V41.91 H372.60 V43.00 H374.57 V44.09 H376.55 V45.18 H378.52 V46.27 H380.49 V47.36 H382.46 V48.45 H384.44 V49.55 H386.41 V50.64 H388.38 V51.73 H390.35 V52.82 H392.33 V53.91 H394.30 V55.00 H396.23 V55.84 H398.17 V56.69 H400.10 V57.53 H402.03 V58.38 H403.97 V59.22 H405.90 V60.07 H407.83 V60.91 H409.77 V61.76 H411.70 V62.60 H413.61 V63.55 H415.52 V64.50 H417.44 V65.45 H419.35 V66.40 H421.26 V67.35 H423.18 V68.30 H425.09 V69.25 H427.00 V70.20 H429.07 V71.14 H431.14 V72.08 H433.21 V73.02 H435.28 V73.96 H437.35 V74.90 H439.42 V75.84 H441.49 V76.78 H443.56 V77.72 H445.63 V78.66 H447.70 V79.60 H449.72 V80.18 H451.75 V80.77 H453.77 V81.35 H455.79 V81.94 H457.82 V82.52 H459.84 V83.11 H461.86 V83.69 H463.88 V84.28 H465.91 V84.86 H467.93 V85.45 H469.95 V86.03 H471.98 V86.62 H474.00 V87.20 H476.09 V87.65 H478.18 V88.10 H480.26 V88.55 H482.35 V89.00 H484.44 V89.45 H486.52 V89.90 H488.61 V90.35 H490.70 V90.80 H492.50 V91.70 H494.30 V92.60 H496.10 V93.50 H497.90 V94.40 H499.65 V97.35 H501.40 V100.30 H508.60" fill="none" stroke="#c8405e" stroke-width="1.0" stroke-linejoin="miter" stroke-dasharray="1.2 1.0"/>
<line x1="330.00" y1="25.97" x2="330.00" y2="28.17" stroke="#26497a" stroke-width="0.8"/>
<line x1="339.00" y1="27.62" x2="339.00" y2="29.82" stroke="#26497a" stroke-width="0.8"/>
<line x1="348.00" y1="29.24" x2="348.00" y2="31.44" stroke="#26497a" stroke-width="0.8"/>
<line x1="357.00" y1="30.86" x2="357.00" y2="33.06" stroke="#26497a" stroke-width="0.8"/>
<line x1="366.00" y1="32.00" x2="366.00" y2="34.20" stroke="#26497a" stroke-width="0.8"/>
<line x1="375.00" y1="32.64" x2="375.00" y2="34.84" stroke="#26497a" stroke-width="0.8"/>
<line x1="384.00" y1="33.76" x2="384.00" y2="35.96" stroke="#26497a" stroke-width="0.8"/>
<line x1="393.00" y1="36.58" x2="393.00" y2="38.78" stroke="#26497a" stroke-width="0.8"/>
<line x1="402.00" y1="37.15" x2="402.00" y2="39.35" stroke="#26497a" stroke-width="0.8"/>
<line x1="411.00" y1="37.72" x2="411.00" y2="39.92" stroke="#26497a" stroke-width="0.8"/>
<line x1="420.00" y1="40.97" x2="420.00" y2="43.17" stroke="#26497a" stroke-width="0.8"/>
<line x1="429.00" y1="43.36" x2="429.00" y2="45.56" stroke="#26497a" stroke-width="0.8"/>
<line x1="438.00" y1="44.46" x2="438.00" y2="46.66" stroke="#26497a" stroke-width="0.8"/>
<line x1="447.00" y1="47.00" x2="447.00" y2="49.20" stroke="#26497a" stroke-width="0.8"/>
<line x1="456.00" y1="49.97" x2="456.00" y2="52.17" stroke="#26497a" stroke-width="0.8"/>
<line x1="465.00" y1="52.93" x2="465.00" y2="55.13" stroke="#26497a" stroke-width="0.8"/>
<line x1="472.00" y1="55.20" x2="472.00" y2="57.40" stroke="#26497a" stroke-width="0.8"/>
<line x1="473.60" y1="55.60" x2="473.60" y2="57.80" stroke="#26497a" stroke-width="0.8"/>
<line x1="475.20" y1="56.00" x2="475.20" y2="58.20" stroke="#26497a" stroke-width="0.8"/>
<line x1="476.80" y1="56.40" x2="476.80" y2="58.60" stroke="#26497a" stroke-width="0.8"/>
<line x1="478.40" y1="56.80" x2="478.40" y2="59.00" stroke="#26497a" stroke-width="0.8"/>
<line x1="480.00" y1="57.20" x2="480.00" y2="59.40" stroke="#26497a" stroke-width="0.8"/>
<line x1="481.60" y1="57.60" x2="481.60" y2="59.80" stroke="#26497a" stroke-width="0.8"/>
<line x1="483.20" y1="58.00" x2="483.20" y2="60.20" stroke="#26497a" stroke-width="0.8"/>
<line x1="484.80" y1="58.40" x2="484.80" y2="60.60" stroke="#26497a" stroke-width="0.8"/>
<line x1="486.40" y1="58.80" x2="486.40" y2="61.00" stroke="#26497a" stroke-width="0.8"/>
<line x1="488.00" y1="59.21" x2="488.00" y2="61.41" stroke="#26497a" stroke-width="0.8"/>
<line x1="489.60" y1="59.61" x2="489.60" y2="61.81" stroke="#26497a" stroke-width="0.8"/>
<line x1="491.20" y1="60.01" x2="491.20" y2="62.21" stroke="#26497a" stroke-width="0.8"/>
<line x1="492.80" y1="60.42" x2="492.80" y2="62.62" stroke="#26497a" stroke-width="0.8"/>
<line x1="494.40" y1="60.82" x2="494.40" y2="63.02" stroke="#26497a" stroke-width="0.8"/>
<line x1="496.00" y1="61.10" x2="496.00" y2="63.30" stroke="#26497a" stroke-width="0.8"/>
<line x1="497.60" y1="61.10" x2="497.60" y2="63.30" stroke="#26497a" stroke-width="0.8"/>
<line x1="499.20" y1="61.10" x2="499.20" y2="63.30" stroke="#26497a" stroke-width="0.8"/>
<line x1="500.80" y1="61.10" x2="500.80" y2="63.30" stroke="#26497a" stroke-width="0.8"/>
<line x1="502.40" y1="61.10" x2="502.40" y2="63.30" stroke="#26497a" stroke-width="0.8"/>
<line x1="504.00" y1="61.10" x2="504.00" y2="63.30" stroke="#26497a" stroke-width="0.8"/>
<line x1="508.00" y1="72.30" x2="508.00" y2="74.50" stroke="#26497a" stroke-width="0.8"/>
<line x1="480.00" y1="87.39" x2="480.00" y2="89.59" stroke="#b91f3f" stroke-width="0.8"/>
<line x1="481.80" y1="87.78" x2="481.80" y2="89.98" stroke="#b91f3f" stroke-width="0.8"/>
<line x1="483.60" y1="88.17" x2="483.60" y2="90.37" stroke="#b91f3f" stroke-width="0.8"/>
<line x1="485.40" y1="88.56" x2="485.40" y2="90.76" stroke="#b91f3f" stroke-width="0.8"/>
<line x1="487.20" y1="88.95" x2="487.20" y2="91.15" stroke="#b91f3f" stroke-width="0.8"/>
<line x1="489.00" y1="89.33" x2="489.00" y2="91.53" stroke="#b91f3f" stroke-width="0.8"/>
<line x1="490.80" y1="89.75" x2="490.80" y2="91.95" stroke="#b91f3f" stroke-width="0.8"/>
<line x1="492.60" y1="90.65" x2="492.60" y2="92.85" stroke="#b91f3f" stroke-width="0.8"/>
<line x1="494.40" y1="91.55" x2="494.40" y2="93.75" stroke="#b91f3f" stroke-width="0.8"/>
<line x1="496.20" y1="92.45" x2="496.20" y2="94.65" stroke="#b91f3f" stroke-width="0.8"/>
<line x1="498.00" y1="93.47" x2="498.00" y2="95.67" stroke="#b91f3f" stroke-width="0.8"/>
<line x1="499.80" y1="96.50" x2="499.80" y2="98.70" stroke="#b91f3f" stroke-width="0.8"/>
<line x1="502.00" y1="99.20" x2="502.00" y2="101.40" stroke="#b91f3f" stroke-width="0.8"/>
<line x1="503.50" y1="99.20" x2="503.50" y2="101.40" stroke="#b91f3f" stroke-width="0.8"/>
<line x1="505.00" y1="99.20" x2="505.00" y2="101.40" stroke="#b91f3f" stroke-width="0.8"/>
<line x1="506.50" y1="99.20" x2="506.50" y2="101.40" stroke="#b91f3f" stroke-width="0.8"/>
<line x1="508.00" y1="99.20" x2="508.00" y2="101.40" stroke="#b91f3f" stroke-width="0.8"/>
<line x1="492.00" y1="86.10" x2="492.00" y2="88.30" stroke="#6587aa" stroke-width="0.8"/>
<line x1="497.00" y1="86.10" x2="497.00" y2="88.30" stroke="#6587aa" stroke-width="0.8"/>
<line x1="502.00" y1="86.10" x2="502.00" y2="88.30" stroke="#6587aa" stroke-width="0.8"/>
<line x1="506.00" y1="86.10" x2="506.00" y2="88.30" stroke="#6587aa" stroke-width="0.8"/>
<line x1="494.00" y1="112.40" x2="494.00" y2="114.60" stroke="#b91f3f" stroke-width="0.8"/>
<line x1="500.00" y1="112.40" x2="500.00" y2="114.60" stroke="#b91f3f" stroke-width="0.8"/>
<line x1="504.00" y1="112.40" x2="504.00" y2="114.60" stroke="#b91f3f" stroke-width="0.8"/>
<line x1="53.40" y1="256.30" x2="53.40" y2="367.40" stroke="#222" stroke-width="1.3" />
<line x1="52.80" y1="366.80" x2="247.90" y2="366.80" stroke="#222" stroke-width="1.3" />
<line x1="50.20" y1="366.80" x2="53.40" y2="366.80" stroke="#222" stroke-width="1.0" />
<text x="46.90" y="369.30" font-size="7.0" fill="#303030" stroke="#303030" stroke-width="0.05" text-anchor="end" font-weight="normal" font-style="normal" textLength="3.58" lengthAdjust="spacingAndGlyphs">0</text>
<line x1="50.20" y1="356.30" x2="53.40" y2="356.30" stroke="#222" stroke-width="1.0" />
<text x="46.90" y="358.80" font-size="7.0" fill="#303030" stroke="#303030" stroke-width="0.05" text-anchor="end" font-weight="normal" font-style="normal" textLength="7.16" lengthAdjust="spacingAndGlyphs">10</text>
<line x1="50.20" y1="345.80" x2="53.40" y2="345.80" stroke="#222" stroke-width="1.0" />
<text x="46.90" y="348.30" font-size="7.0" fill="#303030" stroke="#303030" stroke-width="0.05" text-anchor="end" font-weight="normal" font-style="normal" textLength="7.16" lengthAdjust="spacingAndGlyphs">20</text>
<line x1="50.20" y1="335.30" x2="53.40" y2="335.30" stroke="#222" stroke-width="1.0" />
<text x="46.90" y="337.80" font-size="7.0" fill="#303030" stroke="#303030" stroke-width="0.05" text-anchor="end" font-weight="normal" font-style="normal" textLength="7.16" lengthAdjust="spacingAndGlyphs">30</text>
<line x1="50.20" y1="324.80" x2="53.40" y2="324.80" stroke="#222" stroke-width="1.0" />
<text x="46.90" y="327.30" font-size="7.0" fill="#303030" stroke="#303030" stroke-width="0.05" text-anchor="end" font-weight="normal" font-style="normal" textLength="7.16" lengthAdjust="spacingAndGlyphs">40</text>
<line x1="50.20" y1="314.30" x2="53.40" y2="314.30" stroke="#222" stroke-width="1.0" />
<text x="46.90" y="316.80" font-size="7.0" fill="#303030" stroke="#303030" stroke-width="0.05" text-anchor="end" font-weight="normal" font-style="normal" textLength="7.16" lengthAdjust="spacingAndGlyphs">50</text>
<line x1="50.20" y1="303.80" x2="53.40" y2="303.80" stroke="#222" stroke-width="1.0" />
<text x="46.90" y="306.30" font-size="7.0" fill="#303030" stroke="#303030" stroke-width="0.05" text-anchor="end" font-weight="normal" font-style="normal" textLength="7.16" lengthAdjust="spacingAndGlyphs">60</text>
<line x1="50.20" y1="293.30" x2="53.40" y2="293.30" stroke="#222" stroke-width="1.0" />
<text x="46.90" y="295.80" font-size="7.0" fill="#303030" stroke="#303030" stroke-width="0.05" text-anchor="end" font-weight="normal" font-style="normal" textLength="7.16" lengthAdjust="spacingAndGlyphs">70</text>
<line x1="50.20" y1="282.80" x2="53.40" y2="282.80" stroke="#222" stroke-width="1.0" />
<text x="46.90" y="285.30" font-size="7.0" fill="#303030" stroke="#303030" stroke-width="0.05" text-anchor="end" font-weight="normal" font-style="normal" textLength="7.16" lengthAdjust="spacingAndGlyphs">80</text>
<line x1="50.20" y1="272.30" x2="53.40" y2="272.30" stroke="#222" stroke-width="1.0" />
<text x="46.90" y="274.80" font-size="7.0" fill="#303030" stroke="#303030" stroke-width="0.05" text-anchor="end" font-weight="normal" font-style="normal" textLength="7.16" lengthAdjust="spacingAndGlyphs">90</text>
<line x1="50.20" y1="261.80" x2="53.40" y2="261.80" stroke="#222" stroke-width="1.0" />
<text x="46.90" y="264.30" font-size="7.0" fill="#303030" stroke="#303030" stroke-width="0.05" text-anchor="end" font-weight="normal" font-style="normal" textLength="10.74" lengthAdjust="spacingAndGlyphs">100</text>
<line x1="53.40" y1="366.80" x2="53.40" y2="370.00" stroke="#222" stroke-width="1.0" />
<text x="53.40" y="378.50" font-size="7.0" fill="#303030" stroke="#303030" stroke-width="0.05" text-anchor="middle" font-weight="normal" font-style="normal" textLength="3.58" lengthAdjust="spacingAndGlyphs">0</text>
<line x1="79.40" y1="366.80" x2="79.40" y2="370.00" stroke="#222" stroke-width="1.0" />
<text x="79.40" y="378.50" font-size="7.0" fill="#303030" stroke="#303030" stroke-width="0.05" text-anchor="middle" font-weight="normal" font-style="normal" textLength="7.16" lengthAdjust="spacingAndGlyphs">12</text>
<line x1="105.40" y1="366.80" x2="105.40" y2="370.00" stroke="#222" stroke-width="1.0" />
<text x="105.40" y="378.50" font-size="7.0" fill="#303030" stroke="#303030" stroke-width="0.05" text-anchor="middle" font-weight="normal" font-style="normal" textLength="7.16" lengthAdjust="spacingAndGlyphs">24</text>
<line x1="131.40" y1="366.80" x2="131.40" y2="370.00" stroke="#222" stroke-width="1.0" />
<text x="131.40" y="378.50" font-size="7.0" fill="#303030" stroke="#303030" stroke-width="0.05" text-anchor="middle" font-weight="normal" font-style="normal" textLength="7.16" lengthAdjust="spacingAndGlyphs">36</text>
<line x1="157.40" y1="366.80" x2="157.40" y2="370.00" stroke="#222" stroke-width="1.0" />
<text x="157.40" y="378.50" font-size="7.0" fill="#303030" stroke="#303030" stroke-width="0.05" text-anchor="middle" font-weight="normal" font-style="normal" textLength="7.16" lengthAdjust="spacingAndGlyphs">48</text>
<line x1="183.40" y1="366.80" x2="183.40" y2="370.00" stroke="#222" stroke-width="1.0" />
<text x="183.40" y="378.50" font-size="7.0" fill="#303030" stroke="#303030" stroke-width="0.05" text-anchor="middle" font-weight="normal" font-style="normal" textLength="7.16" lengthAdjust="spacingAndGlyphs">60</text>
<line x1="209.40" y1="366.80" x2="209.40" y2="370.00" stroke="#222" stroke-width="1.0" />
<text x="209.40" y="378.50" font-size="7.0" fill="#303030" stroke="#303030" stroke-width="0.05" text-anchor="middle" font-weight="normal" font-style="normal" textLength="7.16" lengthAdjust="spacingAndGlyphs">72</text>
<line x1="235.40" y1="366.80" x2="235.40" y2="370.00" stroke="#222" stroke-width="1.0" />
<text x="235.40" y="378.50" font-size="7.0" fill="#303030" stroke="#303030" stroke-width="0.05" text-anchor="middle" font-weight="normal" font-style="normal" textLength="7.16" lengthAdjust="spacingAndGlyphs">84</text>
<text x="22.20" y="340.10" font-size="7.8" fill="#303030" stroke="#303030" stroke-width="0.05" text-anchor="start" font-weight="normal" font-style="normal" textLength="62.30" lengthAdjust="spacingAndGlyphs" transform="rotate(-90 22.20 340.10)">Cumulative next CLL</text>
<text x="31.60" y="340.10" font-size="7.8" fill="#303030" stroke="#303030" stroke-width="0.05" text-anchor="start" font-weight="normal" font-style="normal" textLength="63.20" lengthAdjust="spacingAndGlyphs" transform="rotate(-90 31.60 340.10)">treatment-free survival</text>
<text x="79.00" y="389.80" font-size="8.5" fill="#303030" stroke="#303030" stroke-width="0.05" text-anchor="start" font-weight="normal" font-style="normal" textLength="148.00" lengthAdjust="spacingAndGlyphs">Time to event [TTNT] from randomization (months)</text>
<line x1="7.00" y1="398.10" x2="15.30" y2="398.10" stroke="#26497a" stroke-width="1.3" />
<text x="17.10" y="400.70" font-size="7.2" fill="#44689a" stroke="#44689a" stroke-width="0.05" text-anchor="start" font-weight="normal" font-style="normal" textLength="28.60" lengthAdjust="spacingAndGlyphs">Ven-Obi &</text>
<text x="17.10" y="408.00" font-size="7.2" fill="#44689a" stroke="#44689a" stroke-width="0.05" text-anchor="start" font-weight="normal" font-style="normal" textLength="19.50" lengthAdjust="spacingAndGlyphs">mIGHV</text>
<text x="53.40" y="400.70" font-size="7.0" fill="#303030" stroke="#303030" stroke-width="0.05" text-anchor="middle" font-weight="normal" font-style="normal" textLength="7.16" lengthAdjust="spacingAndGlyphs">76</text>
<text x="79.40" y="400.70" font-size="7.0" fill="#303030" stroke="#303030" stroke-width="0.05" text-anchor="middle" font-weight="normal" font-style="normal" textLength="7.16" lengthAdjust="spacingAndGlyphs">71</text>
<text x="105.40" y="400.70" font-size="7.0" fill="#303030" stroke="#303030" stroke-width="0.05" text-anchor="middle" font-weight="normal" font-style="normal" textLength="7.16" lengthAdjust="spacingAndGlyphs">67</text>
<text x="131.40" y="400.70" font-size="7.0" fill="#303030" stroke="#303030" stroke-width="0.05" text-anchor="middle" font-weight="normal" font-style="normal" textLength="7.16" lengthAdjust="spacingAndGlyphs">65</text>
<text x="157.40" y="400.70" font-size="7.0" fill="#303030" stroke="#303030" stroke-width="0.05" text-anchor="middle" font-weight="normal" font-style="normal" textLength="7.16" lengthAdjust="spacingAndGlyphs">64</text>
<text x="183.40" y="400.70" font-size="7.0" fill="#303030" stroke="#303030" stroke-width="0.05" text-anchor="middle" font-weight="normal" font-style="normal" textLength="7.16" lengthAdjust="spacingAndGlyphs">57</text>
<text x="209.40" y="400.70" font-size="7.0" fill="#303030" stroke="#303030" stroke-width="0.05" text-anchor="middle" font-weight="normal" font-style="normal" textLength="7.16" lengthAdjust="spacingAndGlyphs">52</text>
<text x="235.40" y="400.70" font-size="7.0" fill="#303030" stroke="#303030" stroke-width="0.05" text-anchor="middle" font-weight="normal" font-style="normal" textLength="7.16" lengthAdjust="spacingAndGlyphs">10</text>
<line x1="7.00" y1="415.80" x2="15.30" y2="415.80" stroke="#26497a" stroke-width="1.0" stroke-dasharray="1.3 0.9"/>
<text x="17.10" y="418.40" font-size="7.2" fill="#44689a" stroke="#44689a" stroke-width="0.05" text-anchor="start" font-weight="normal" font-style="normal" textLength="28.60" lengthAdjust="spacingAndGlyphs">Ven-Obi &</text>
<text x="17.10" y="425.90" font-size="7.2" fill="#44689a" stroke="#44689a" stroke-width="0.05" text-anchor="start" font-weight="normal" font-style="normal" textLength="19.50" lengthAdjust="spacingAndGlyphs">uIGHV</text>
<text x="53.40" y="418.40" font-size="7.0" fill="#303030" stroke="#303030" stroke-width="0.05" text-anchor="middle" font-weight="normal" font-style="normal" textLength="10.74" lengthAdjust="spacingAndGlyphs">121</text>
<text x="79.40" y="418.40" font-size="7.0" fill="#303030" stroke="#303030" stroke-width="0.05" text-anchor="middle" font-weight="normal" font-style="normal" textLength="10.74" lengthAdjust="spacingAndGlyphs">109</text>
<text x="105.40" y="418.40" font-size="7.0" fill="#303030" stroke="#303030" stroke-width="0.05" text-anchor="middle" font-weight="normal" font-style="normal" textLength="10.74" lengthAdjust="spacingAndGlyphs">102</text>
<text x="131.40" y="418.40" font-size="7.0" fill="#303030" stroke="#303030" stroke-width="0.05" text-anchor="middle" font-weight="normal" font-style="normal" textLength="7.16" lengthAdjust="spacingAndGlyphs">95</text>
<text x="157.40" y="418.40" font-size="7.0" fill="#303030" stroke="#303030" stroke-width="0.05" text-anchor="middle" font-weight="normal" font-style="normal" textLength="7.16" lengthAdjust="spacingAndGlyphs">86</text>
<text x="183.40" y="418.40" font-size="7.0" fill="#303030" stroke="#303030" stroke-width="0.05" text-anchor="middle" font-weight="normal" font-style="normal" textLength="7.16" lengthAdjust="spacingAndGlyphs">73</text>
<text x="209.40" y="418.40" font-size="7.0" fill="#303030" stroke="#303030" stroke-width="0.05" text-anchor="middle" font-weight="normal" font-style="normal" textLength="7.16" lengthAdjust="spacingAndGlyphs">57</text>
<text x="235.40" y="418.40" font-size="7.0" fill="#303030" stroke="#303030" stroke-width="0.05" text-anchor="middle" font-weight="normal" font-style="normal" textLength="3.58" lengthAdjust="spacingAndGlyphs">9</text>
<line x1="7.00" y1="433.40" x2="15.30" y2="433.40" stroke="#b91f3f" stroke-width="1.3" />
<text x="17.10" y="436.00" font-size="7.2" fill="#bb2e4c" stroke="#bb2e4c" stroke-width="0.05" text-anchor="start" font-weight="normal" font-style="normal" textLength="28.60" lengthAdjust="spacingAndGlyphs">Clb-Obi &</text>
<text x="17.10" y="443.30" font-size="7.2" fill="#bb2e4c" stroke="#bb2e4c" stroke-width="0.05" text-anchor="start" font-weight="normal" font-style="normal" textLength="19.50" lengthAdjust="spacingAndGlyphs">mIGHV</text>
<text x="53.40" y="436.00" font-size="7.0" fill="#303030" stroke="#303030" stroke-width="0.05" text-anchor="middle" font-weight="normal" font-style="normal" textLength="7.16" lengthAdjust="spacingAndGlyphs">83</text>
<text x="79.40" y="436.00" font-size="7.0" fill="#303030" stroke="#303030" stroke-width="0.05" text-anchor="middle" font-weight="normal" font-style="normal" textLength="7.16" lengthAdjust="spacingAndGlyphs">78</text>
<text x="105.40" y="436.00" font-size="7.0" fill="#303030" stroke="#303030" stroke-width="0.05" text-anchor="middle" font-weight="normal" font-style="normal" textLength="7.16" lengthAdjust="spacingAndGlyphs">73</text>
<text x="131.40" y="436.00" font-size="7.0" fill="#303030" stroke="#303030" stroke-width="0.05" text-anchor="middle" font-weight="normal" font-style="normal" textLength="7.16" lengthAdjust="spacingAndGlyphs">69</text>
<text x="157.40" y="436.00" font-size="7.0" fill="#303030" stroke="#303030" stroke-width="0.05" text-anchor="middle" font-weight="normal" font-style="normal" textLength="7.16" lengthAdjust="spacingAndGlyphs">60</text>
<text x="183.40" y="436.00" font-size="7.0" fill="#303030" stroke="#303030" stroke-width="0.05" text-anchor="middle" font-weight="normal" font-style="normal" textLength="7.16" lengthAdjust="spacingAndGlyphs">51</text>
<text x="209.40" y="436.00" font-size="7.0" fill="#303030" stroke="#303030" stroke-width="0.05" text-anchor="middle" font-weight="normal" font-style="normal" textLength="7.16" lengthAdjust="spacingAndGlyphs">47</text>
<text x="235.40" y="436.00" font-size="7.0" fill="#303030" stroke="#303030" stroke-width="0.05" text-anchor="middle" font-weight="normal" font-style="normal" textLength="3.58" lengthAdjust="spacingAndGlyphs">6</text>
<line x1="7.00" y1="450.90" x2="15.30" y2="450.90" stroke="#b91f3f" stroke-width="1.0" stroke-dasharray="1.3 0.9"/>
<text x="17.10" y="453.50" font-size="7.2" fill="#bb2e4c" stroke="#bb2e4c" stroke-width="0.05" text-anchor="start" font-weight="normal" font-style="normal" textLength="28.60" lengthAdjust="spacingAndGlyphs">Clb-Obi &</text>
<text x="17.10" y="461.00" font-size="7.2" fill="#bb2e4c" stroke="#bb2e4c" stroke-width="0.05" text-anchor="start" font-weight="normal" font-style="normal" textLength="19.50" lengthAdjust="spacingAndGlyphs">uIGHV</text>
<text x="53.40" y="453.50" font-size="7.0" fill="#303030" stroke="#303030" stroke-width="0.05" text-anchor="middle" font-weight="normal" font-style="normal" textLength="10.74" lengthAdjust="spacingAndGlyphs">123</text>
<text x="79.40" y="453.50" font-size="7.0" fill="#303030" stroke="#303030" stroke-width="0.05" text-anchor="middle" font-weight="normal" font-style="normal" textLength="10.74" lengthAdjust="spacingAndGlyphs">108</text>
<text x="105.40" y="453.50" font-size="7.0" fill="#303030" stroke="#303030" stroke-width="0.05" text-anchor="middle" font-weight="normal" font-style="normal" textLength="7.16" lengthAdjust="spacingAndGlyphs">85</text>
<text x="131.40" y="453.50" font-size="7.0" fill="#303030" stroke="#303030" stroke-width="0.05" text-anchor="middle" font-weight="normal" font-style="normal" textLength="7.16" lengthAdjust="spacingAndGlyphs">66</text>
<text x="157.40" y="453.50" font-size="7.0" fill="#303030" stroke="#303030" stroke-width="0.05" text-anchor="middle" font-weight="normal" font-style="normal" textLength="7.16" lengthAdjust="spacingAndGlyphs">46</text>
<text x="183.40" y="453.50" font-size="7.0" fill="#303030" stroke="#303030" stroke-width="0.05" text-anchor="middle" font-weight="normal" font-style="normal" textLength="7.16" lengthAdjust="spacingAndGlyphs">28</text>
<text x="209.40" y="453.50" font-size="7.0" fill="#303030" stroke="#303030" stroke-width="0.05" text-anchor="middle" font-weight="normal" font-style="normal" textLength="7.16" lengthAdjust="spacingAndGlyphs">21</text>
<text x="235.40" y="453.50" font-size="7.0" fill="#303030" stroke="#303030" stroke-width="0.05" text-anchor="middle" font-weight="normal" font-style="normal" textLength="3.58" lengthAdjust="spacingAndGlyphs">3</text>
<path d="M53.70,261.80 H56.00 V265.10 H58.83 V265.20 H61.67 V265.30 H64.50 V265.40 H67.33 V265.50 H70.17 V265.60 H73.00 V265.70 H75.00 V266.50 H77.80 V266.90 H80.60 V267.30 H83.40 V267.70 H86.30 V268.85 H89.20 V270.00 H92.44 V270.22 H95.68 V270.44 H98.92 V270.66 H102.16 V270.88 H105.40 V271.10 H108.38 V271.20 H111.35 V271.30 H114.33 V271.40 H117.30 V271.50 H120.10 V271.91 H122.90 V272.33 H125.70 V272.74 H128.50 V273.16 H131.30 V273.57 H134.10 V273.99 H136.90 V274.40 H139.79 V274.67 H142.68 V274.95 H145.56 V275.23 H148.45 V275.50 H151.34 V275.77 H154.22 V276.05 H157.11 V276.33 H160.00 V276.60 H163.00 V276.80 H166.00 V277.00 H169.00 V277.20 H172.00 V277.40 H175.00 V277.60 H178.00 V277.80 H181.00 V278.00 H184.00 V278.20 H186 V279.5 H201 V281.2 H208 V282.7 H229 V285.5 H244.2" fill="none" stroke="#26497a" stroke-width="0.95" stroke-linejoin="miter" />
<path d="M53.70,261.80 L56.00,265.10 L66.70,265.40 L75.00,266.50 L83.40,267.70 L89.20,270.00 L100.00,271.50 L120.20,275.00 L130.00,277.30 L139.20,280.20 L146.10,280.80 L159.80,286.90 L167.30,289.80 L177.10,293.80 L184.60,297.00 L193.80,299.60 L204.20,303.00 L223.30,309.40 L241.70,312.60 V322.4 H244.2" fill="none" stroke="#26497a" stroke-width="1.0" stroke-linejoin="miter" stroke-dasharray="4 4.5"/>
<path d="M53.70,261.80 H56.13 V261.87 H58.57 V261.93 H61.00 V262.00 H63.80 V263.70 H66.22 V263.70 H68.64 V263.70 H71.05 V263.70 H73.47 V263.70 H75.89 V263.70 H78.31 V263.70 H80.73 V263.70 H83.15 V263.70 H85.56 V263.70 H87.98 V263.70 H90.40 V263.70 H93.20 V265.40 H96.00 V267.10 H98.33 V267.87 H100.67 V268.63 H103.00 V269.40 H104.60 V271.00 H107.30 V271.17 H110.00 V271.33 H112.70 V271.50 H115.24 V271.74 H117.78 V271.98 H120.32 V272.22 H122.86 V272.46 H125.40 V272.70 H128.00 V273.12 H130.60 V273.55 H133.20 V273.97 H135.80 V274.40 H138.10 V275.17 H140.40 V275.93 H142.70 V276.70 H146.10 V278.50 H149.60 V280.80 H152.07 V281.30 H154.53 V281.80 H157.00 V282.30 H159.52 V282.72 H162.04 V283.14 H164.56 V283.56 H167.08 V283.98 H169.60 V284.40 H171.73 V284.53 H173.87 V284.67 H176.00 V284.80 H178.47 V287.03 H180.93 V289.27 H183.40 V291.50 H185.70 V292.40 H188.00 V293.30 H190.90 V294.15 H193.80 V295.00 H196.26 V295.29 H198.72 V295.58 H201.18 V295.87 H203.64 V296.16 H206.10 V296.45 H208.56 V296.74 H211.02 V297.03 H213.48 V297.32 H215.94 V297.61 H218.40 V297.90 H221.00 V302.80 H223.40 V303.60 H225.80 V304.40 H228.20 V305.20 H231.30 V307.05 H234.40 V308.90 H236.80 V313.80 H239.90 V315.05 H243.00 V316.30 H244.20" fill="none" stroke="#b91f3f" stroke-width="1.0" stroke-linejoin="miter" />
<path d="M53.70,261.80 L62.00,263.00 L74.20,268.30 L83.40,272.30 L89.80,278.60 L97.30,283.30 L104.80,289.60 L111.70,294.40 L119.80,299.60 L127.30,304.20 L135.90,308.30 L143.30,314.60 L149.80,321.20 L158.40,324.90 L167.00,329.80 L171.90,337.10 L189.00,342.00 L201.30,344.50 L220.90,346.90 L228.20,349.40 L234.40,351.80 L241.70,355.50 H244.2" fill="none" stroke="#b91f3f" stroke-width="1.0" stroke-linejoin="miter" stroke-dasharray="4 5"/>
<line x1="90.00" y1="268.95" x2="90.00" y2="271.15" stroke="#26497a" stroke-width="0.8"/>
<line x1="97.00" y1="269.43" x2="97.00" y2="271.63" stroke="#26497a" stroke-width="0.8"/>
<line x1="104.00" y1="269.90" x2="104.00" y2="272.10" stroke="#26497a" stroke-width="0.8"/>
<line x1="111.00" y1="270.19" x2="111.00" y2="272.39" stroke="#26497a" stroke-width="0.8"/>
<line x1="118.00" y1="270.50" x2="118.00" y2="272.70" stroke="#26497a" stroke-width="0.8"/>
<line x1="125.00" y1="271.54" x2="125.00" y2="273.74" stroke="#26497a" stroke-width="0.8"/>
<line x1="132.00" y1="272.57" x2="132.00" y2="274.77" stroke="#26497a" stroke-width="0.8"/>
<line x1="139.00" y1="273.50" x2="139.00" y2="275.70" stroke="#26497a" stroke-width="0.8"/>
<line x1="146.00" y1="274.17" x2="146.00" y2="276.37" stroke="#26497a" stroke-width="0.8"/>
<line x1="153.00" y1="274.83" x2="153.00" y2="277.03" stroke="#26497a" stroke-width="0.8"/>
<line x1="160.00" y1="275.50" x2="160.00" y2="277.70" stroke="#26497a" stroke-width="0.8"/>
<line x1="167.00" y1="275.97" x2="167.00" y2="278.17" stroke="#26497a" stroke-width="0.8"/>
<line x1="174.00" y1="276.43" x2="174.00" y2="278.63" stroke="#26497a" stroke-width="0.8"/>
<line x1="181.00" y1="276.90" x2="181.00" y2="279.10" stroke="#26497a" stroke-width="0.8"/>
<line x1="188.00" y1="278.40" x2="188.00" y2="280.60" stroke="#26497a" stroke-width="0.8"/>
<line x1="195.00" y1="278.40" x2="195.00" y2="280.60" stroke="#26497a" stroke-width="0.8"/>
<line x1="205.00" y1="280.10" x2="205.00" y2="282.30" stroke="#26497a" stroke-width="0.8"/>
<line x1="207.00" y1="280.10" x2="207.00" y2="282.30" stroke="#26497a" stroke-width="0.8"/>
<line x1="209.00" y1="281.60" x2="209.00" y2="283.80" stroke="#26497a" stroke-width="0.8"/>
<line x1="211.00" y1="281.60" x2="211.00" y2="283.80" stroke="#26497a" stroke-width="0.8"/>
<line x1="213.00" y1="281.60" x2="213.00" y2="283.80" stroke="#26497a" stroke-width="0.8"/>
<line x1="215.00" y1="281.60" x2="215.00" y2="283.80" stroke="#26497a" stroke-width="0.8"/>
<line x1="217.00" y1="281.60" x2="217.00" y2="283.80" stroke="#26497a" stroke-width="0.8"/>
<line x1="219.00" y1="281.60" x2="219.00" y2="283.80" stroke="#26497a" stroke-width="0.8"/>
<line x1="221.00" y1="281.60" x2="221.00" y2="283.80" stroke="#26497a" stroke-width="0.8"/>
<line x1="223.00" y1="281.60" x2="223.00" y2="283.80" stroke="#26497a" stroke-width="0.8"/>
<line x1="225.00" y1="281.60" x2="225.00" y2="283.80" stroke="#26497a" stroke-width="0.8"/>
<line x1="227.00" y1="281.60" x2="227.00" y2="283.80" stroke="#26497a" stroke-width="0.8"/>
<line x1="229.00" y1="284.40" x2="229.00" y2="286.60" stroke="#26497a" stroke-width="0.8"/>
<line x1="231.00" y1="284.40" x2="231.00" y2="286.60" stroke="#26497a" stroke-width="0.8"/>
<line x1="233.00" y1="284.40" x2="233.00" y2="286.60" stroke="#26497a" stroke-width="0.8"/>
<line x1="235.00" y1="284.40" x2="235.00" y2="286.60" stroke="#26497a" stroke-width="0.8"/>
<line x1="237.00" y1="284.40" x2="237.00" y2="286.60" stroke="#26497a" stroke-width="0.8"/>
<line x1="239.00" y1="284.40" x2="239.00" y2="286.60" stroke="#26497a" stroke-width="0.8"/>
<line x1="241.00" y1="284.40" x2="241.00" y2="286.60" stroke="#26497a" stroke-width="0.8"/>
<line x1="150.00" y1="281.44" x2="150.00" y2="283.64" stroke="#26497a" stroke-width="0.8"/>
<line x1="157.00" y1="284.55" x2="157.00" y2="286.75" stroke="#26497a" stroke-width="0.8"/>
<line x1="164.00" y1="287.42" x2="164.00" y2="289.62" stroke="#26497a" stroke-width="0.8"/>
<line x1="171.00" y1="290.21" x2="171.00" y2="292.41" stroke="#26497a" stroke-width="0.8"/>
<line x1="178.00" y1="293.08" x2="178.00" y2="295.28" stroke="#26497a" stroke-width="0.8"/>
<line x1="185.00" y1="296.01" x2="185.00" y2="298.21" stroke="#26497a" stroke-width="0.8"/>
<line x1="192.00" y1="297.99" x2="192.00" y2="300.19" stroke="#26497a" stroke-width="0.8"/>
<line x1="199.00" y1="300.20" x2="199.00" y2="302.40" stroke="#26497a" stroke-width="0.8"/>
<line x1="206.00" y1="302.50" x2="206.00" y2="304.70" stroke="#26497a" stroke-width="0.8"/>
<line x1="213.00" y1="304.85" x2="213.00" y2="307.05" stroke="#26497a" stroke-width="0.8"/>
<line x1="218.00" y1="306.52" x2="218.00" y2="308.72" stroke="#26497a" stroke-width="0.8"/>
<line x1="219.80" y1="307.13" x2="219.80" y2="309.33" stroke="#26497a" stroke-width="0.8"/>
<line x1="221.60" y1="307.73" x2="221.60" y2="309.93" stroke="#26497a" stroke-width="0.8"/>
<line x1="223.40" y1="308.32" x2="223.40" y2="310.52" stroke="#26497a" stroke-width="0.8"/>
<line x1="225.20" y1="308.63" x2="225.20" y2="310.83" stroke="#26497a" stroke-width="0.8"/>
<line x1="227.00" y1="308.94" x2="227.00" y2="311.14" stroke="#26497a" stroke-width="0.8"/>
<line x1="228.80" y1="309.26" x2="228.80" y2="311.46" stroke="#26497a" stroke-width="0.8"/>
<line x1="230.60" y1="309.57" x2="230.60" y2="311.77" stroke="#26497a" stroke-width="0.8"/>
<line x1="232.40" y1="309.88" x2="232.40" y2="312.08" stroke="#26497a" stroke-width="0.8"/>
<line x1="234.20" y1="310.20" x2="234.20" y2="312.40" stroke="#26497a" stroke-width="0.8"/>
<line x1="236.00" y1="310.51" x2="236.00" y2="312.71" stroke="#26497a" stroke-width="0.8"/>
<line x1="237.80" y1="310.82" x2="237.80" y2="313.02" stroke="#26497a" stroke-width="0.8"/>
<line x1="239.60" y1="311.13" x2="239.60" y2="313.33" stroke="#26497a" stroke-width="0.8"/>
<line x1="243.50" y1="321.30" x2="243.50" y2="323.50" stroke="#26497a" stroke-width="0.8"/>
<line x1="120.00" y1="271.09" x2="120.00" y2="273.29" stroke="#b91f3f" stroke-width="0.8"/>
<line x1="128.00" y1="272.02" x2="128.00" y2="274.23" stroke="#b91f3f" stroke-width="0.8"/>
<line x1="136.00" y1="273.37" x2="136.00" y2="275.57" stroke="#b91f3f" stroke-width="0.8"/>
<line x1="144.00" y1="276.29" x2="144.00" y2="278.49" stroke="#b91f3f" stroke-width="0.8"/>
<line x1="152.00" y1="280.19" x2="152.00" y2="282.39" stroke="#b91f3f" stroke-width="0.8"/>
<line x1="160.00" y1="281.70" x2="160.00" y2="283.90" stroke="#b91f3f" stroke-width="0.8"/>
<line x1="168.00" y1="283.03" x2="168.00" y2="285.23" stroke="#b91f3f" stroke-width="0.8"/>
<line x1="176.00" y1="283.70" x2="176.00" y2="285.90" stroke="#b91f3f" stroke-width="0.8"/>
<line x1="184.00" y1="290.63" x2="184.00" y2="292.83" stroke="#b91f3f" stroke-width="0.8"/>
<line x1="192.00" y1="293.37" x2="192.00" y2="295.57" stroke="#b91f3f" stroke-width="0.8"/>
<line x1="200.00" y1="294.63" x2="200.00" y2="296.83" stroke="#b91f3f" stroke-width="0.8"/>
<line x1="208.00" y1="295.57" x2="208.00" y2="297.77" stroke="#b91f3f" stroke-width="0.8"/>
<line x1="212.00" y1="296.05" x2="212.00" y2="298.25" stroke="#b91f3f" stroke-width="0.8"/>
<line x1="214.00" y1="296.28" x2="214.00" y2="298.48" stroke="#b91f3f" stroke-width="0.8"/>
<line x1="216.00" y1="296.52" x2="216.00" y2="298.72" stroke="#b91f3f" stroke-width="0.8"/>
<line x1="218.00" y1="296.75" x2="218.00" y2="298.95" stroke="#b91f3f" stroke-width="0.8"/>
<line x1="220.00" y1="299.82" x2="220.00" y2="302.02" stroke="#b91f3f" stroke-width="0.8"/>
<line x1="222.00" y1="302.03" x2="222.00" y2="304.23" stroke="#b91f3f" stroke-width="0.8"/>
<line x1="224.00" y1="302.70" x2="224.00" y2="304.90" stroke="#b91f3f" stroke-width="0.8"/>
<line x1="226.00" y1="303.37" x2="226.00" y2="305.57" stroke="#b91f3f" stroke-width="0.8"/>
<line x1="228.00" y1="304.03" x2="228.00" y2="306.23" stroke="#b91f3f" stroke-width="0.8"/>
<line x1="230.00" y1="305.17" x2="230.00" y2="307.37" stroke="#b91f3f" stroke-width="0.8"/>
<line x1="232.00" y1="306.37" x2="232.00" y2="308.57" stroke="#b91f3f" stroke-width="0.8"/>
<line x1="234.00" y1="307.56" x2="234.00" y2="309.76" stroke="#b91f3f" stroke-width="0.8"/>
<line x1="236.00" y1="311.07" x2="236.00" y2="313.27" stroke="#b91f3f" stroke-width="0.8"/>
<line x1="238.00" y1="313.18" x2="238.00" y2="315.38" stroke="#b91f3f" stroke-width="0.8"/>
<line x1="240.00" y1="313.99" x2="240.00" y2="316.19" stroke="#b91f3f" stroke-width="0.8"/>
<line x1="242.00" y1="314.80" x2="242.00" y2="317.00" stroke="#b91f3f" stroke-width="0.8"/>
<line x1="208.00" y1="344.22" x2="208.00" y2="346.42" stroke="#b91f3f" stroke-width="0.8"/>
<line x1="210.00" y1="344.47" x2="210.00" y2="346.67" stroke="#b91f3f" stroke-width="0.8"/>
<line x1="212.00" y1="344.71" x2="212.00" y2="346.91" stroke="#b91f3f" stroke-width="0.8"/>
<line x1="214.00" y1="344.96" x2="214.00" y2="347.16" stroke="#b91f3f" stroke-width="0.8"/>
<line x1="216.00" y1="345.20" x2="216.00" y2="347.40" stroke="#b91f3f" stroke-width="0.8"/>
<line x1="218.00" y1="345.44" x2="218.00" y2="347.64" stroke="#b91f3f" stroke-width="0.8"/>
<line x1="220.00" y1="345.69" x2="220.00" y2="347.89" stroke="#b91f3f" stroke-width="0.8"/>
<line x1="222.00" y1="346.18" x2="222.00" y2="348.38" stroke="#b91f3f" stroke-width="0.8"/>
<line x1="224.00" y1="346.86" x2="224.00" y2="349.06" stroke="#b91f3f" stroke-width="0.8"/>
<line x1="226.00" y1="347.55" x2="226.00" y2="349.75" stroke="#b91f3f" stroke-width="0.8"/>
<line x1="228.00" y1="348.23" x2="228.00" y2="350.43" stroke="#b91f3f" stroke-width="0.8"/>
<line x1="230.00" y1="349.00" x2="230.00" y2="351.20" stroke="#b91f3f" stroke-width="0.8"/>
<line x1="232.00" y1="349.77" x2="232.00" y2="351.97" stroke="#b91f3f" stroke-width="0.8"/>
<line x1="234.00" y1="350.55" x2="234.00" y2="352.75" stroke="#b91f3f" stroke-width="0.8"/>
<line x1="317.50" y1="259.90" x2="317.50" y2="367.40" stroke="#222" stroke-width="1.3" />
<line x1="316.90" y1="366.80" x2="503.70" y2="366.80" stroke="#222" stroke-width="1.3" />
<line x1="314.30" y1="366.80" x2="317.50" y2="366.80" stroke="#222" stroke-width="1.0" />
<text x="311.00" y="369.30" font-size="7.0" fill="#303030" stroke="#303030" stroke-width="0.05" text-anchor="end" font-weight="normal" font-style="normal" textLength="3.58" lengthAdjust="spacingAndGlyphs">0</text>
<line x1="314.30" y1="356.70" x2="317.50" y2="356.70" stroke="#222" stroke-width="1.0" />
<text x="311.00" y="359.20" font-size="7.0" fill="#303030" stroke="#303030" stroke-width="0.05" text-anchor="end" font-weight="normal" font-style="normal" textLength="7.16" lengthAdjust="spacingAndGlyphs">10</text>
<line x1="314.30" y1="346.60" x2="317.50" y2="346.60" stroke="#222" stroke-width="1.0" />
<text x="311.00" y="349.10" font-size="7.0" fill="#303030" stroke="#303030" stroke-width="0.05" text-anchor="end" font-weight="normal" font-style="normal" textLength="7.16" lengthAdjust="spacingAndGlyphs">20</text>
<line x1="314.30" y1="336.50" x2="317.50" y2="336.50" stroke="#222" stroke-width="1.0" />
<text x="311.00" y="339.00" font-size="7.0" fill="#303030" stroke="#303030" stroke-width="0.05" text-anchor="end" font-weight="normal" font-style="normal" textLength="7.16" lengthAdjust="spacingAndGlyphs">30</text>
<line x1="314.30" y1="326.40" x2="317.50" y2="326.40" stroke="#222" stroke-width="1.0" />
<text x="311.00" y="328.90" font-size="7.0" fill="#303030" stroke="#303030" stroke-width="0.05" text-anchor="end" font-weight="normal" font-style="normal" textLength="7.16" lengthAdjust="spacingAndGlyphs">40</text>
<line x1="314.30" y1="316.30" x2="317.50" y2="316.30" stroke="#222" stroke-width="1.0" />
<text x="311.00" y="318.80" font-size="7.0" fill="#303030" stroke="#303030" stroke-width="0.05" text-anchor="end" font-weight="normal" font-style="normal" textLength="7.16" lengthAdjust="spacingAndGlyphs">50</text>
<line x1="314.30" y1="306.20" x2="317.50" y2="306.20" stroke="#222" stroke-width="1.0" />
<text x="311.00" y="308.70" font-size="7.0" fill="#303030" stroke="#303030" stroke-width="0.05" text-anchor="end" font-weight="normal" font-style="normal" textLength="7.16" lengthAdjust="spacingAndGlyphs">60</text>
<line x1="314.30" y1="296.10" x2="317.50" y2="296.10" stroke="#222" stroke-width="1.0" />
<text x="311.00" y="298.60" font-size="7.0" fill="#303030" stroke="#303030" stroke-width="0.05" text-anchor="end" font-weight="normal" font-style="normal" textLength="7.16" lengthAdjust="spacingAndGlyphs">70</text>
<line x1="314.30" y1="286.00" x2="317.50" y2="286.00" stroke="#222" stroke-width="1.0" />
<text x="311.00" y="288.50" font-size="7.0" fill="#303030" stroke="#303030" stroke-width="0.05" text-anchor="end" font-weight="normal" font-style="normal" textLength="7.16" lengthAdjust="spacingAndGlyphs">80</text>
<line x1="314.30" y1="275.90" x2="317.50" y2="275.90" stroke="#222" stroke-width="1.0" />
<text x="311.00" y="278.40" font-size="7.0" fill="#303030" stroke="#303030" stroke-width="0.05" text-anchor="end" font-weight="normal" font-style="normal" textLength="7.16" lengthAdjust="spacingAndGlyphs">90</text>
<line x1="314.30" y1="265.80" x2="317.50" y2="265.80" stroke="#222" stroke-width="1.0" />
<text x="311.00" y="268.30" font-size="7.0" fill="#303030" stroke="#303030" stroke-width="0.05" text-anchor="end" font-weight="normal" font-style="normal" textLength="10.74" lengthAdjust="spacingAndGlyphs">100</text>
<line x1="317.50" y1="366.80" x2="317.50" y2="370.00" stroke="#222" stroke-width="1.0" />
<text x="317.50" y="378.10" font-size="7.0" fill="#303030" stroke="#303030" stroke-width="0.05" text-anchor="middle" font-weight="normal" font-style="normal" textLength="3.58" lengthAdjust="spacingAndGlyphs">0</text>
<line x1="341.70" y1="366.80" x2="341.70" y2="370.00" stroke="#222" stroke-width="1.0" />
<text x="341.70" y="378.10" font-size="7.0" fill="#303030" stroke="#303030" stroke-width="0.05" text-anchor="middle" font-weight="normal" font-style="normal" textLength="7.16" lengthAdjust="spacingAndGlyphs">12</text>
<line x1="365.90" y1="366.80" x2="365.90" y2="370.00" stroke="#222" stroke-width="1.0" />
<text x="365.90" y="378.10" font-size="7.0" fill="#303030" stroke="#303030" stroke-width="0.05" text-anchor="middle" font-weight="normal" font-style="normal" textLength="7.16" lengthAdjust="spacingAndGlyphs">24</text>
<line x1="390.10" y1="366.80" x2="390.10" y2="370.00" stroke="#222" stroke-width="1.0" />
<text x="390.10" y="378.10" font-size="7.0" fill="#303030" stroke="#303030" stroke-width="0.05" text-anchor="middle" font-weight="normal" font-style="normal" textLength="7.16" lengthAdjust="spacingAndGlyphs">36</text>
<line x1="414.30" y1="366.80" x2="414.30" y2="370.00" stroke="#222" stroke-width="1.0" />
<text x="414.30" y="378.10" font-size="7.0" fill="#303030" stroke="#303030" stroke-width="0.05" text-anchor="middle" font-weight="normal" font-style="normal" textLength="7.16" lengthAdjust="spacingAndGlyphs">48</text>
<line x1="438.50" y1="366.80" x2="438.50" y2="370.00" stroke="#222" stroke-width="1.0" />
<text x="438.50" y="378.10" font-size="7.0" fill="#303030" stroke="#303030" stroke-width="0.05" text-anchor="middle" font-weight="normal" font-style="normal" textLength="7.16" lengthAdjust="spacingAndGlyphs">60</text>
<line x1="462.70" y1="366.80" x2="462.70" y2="370.00" stroke="#222" stroke-width="1.0" />
<text x="462.70" y="378.10" font-size="7.0" fill="#303030" stroke="#303030" stroke-width="0.05" text-anchor="middle" font-weight="normal" font-style="normal" textLength="7.16" lengthAdjust="spacingAndGlyphs">72</text>
<line x1="486.90" y1="366.80" x2="486.90" y2="370.00" stroke="#222" stroke-width="1.0" />
<text x="486.90" y="378.10" font-size="7.0" fill="#303030" stroke="#303030" stroke-width="0.05" text-anchor="middle" font-weight="normal" font-style="normal" textLength="7.16" lengthAdjust="spacingAndGlyphs">84</text>
<text x="286.60" y="360.20" font-size="7.8" fill="#303030" stroke="#303030" stroke-width="0.05" text-anchor="start" font-weight="normal" font-style="normal" textLength="78.20" lengthAdjust="spacingAndGlyphs" transform="rotate(-90 286.60 360.20)">Cumulative incidence of</text>
<text x="297.20" y="359.00" font-size="7.8" fill="#303030" stroke="#303030" stroke-width="0.05" text-anchor="start" font-weight="normal" font-style="normal" textLength="88.00" lengthAdjust="spacingAndGlyphs" transform="rotate(-90 297.20 359.00)">second primary malignancies</text>
<text x="336.60" y="389.70" font-size="8.5" fill="#303030" stroke="#303030" stroke-width="0.05" text-anchor="start" font-weight="normal" font-style="normal" textLength="148.00" lengthAdjust="spacingAndGlyphs">Time to event [SPM] from randomization (months)</text>
<text x="285.00" y="401.20" font-size="7.0" fill="#44689a" stroke="#44689a" stroke-width="0.05" text-anchor="start" font-weight="normal" font-style="normal" textLength="24.60" lengthAdjust="spacingAndGlyphs">Ven-Obi</text>
<text x="285.00" y="411.00" font-size="7.0" fill="#bb2e4c" stroke="#bb2e4c" stroke-width="0.05" text-anchor="start" font-weight="normal" font-style="normal" textLength="24.60" lengthAdjust="spacingAndGlyphs">Clb-Obi</text>
<text x="317.50" y="401.20" font-size="7.0" fill="#303030" stroke="#303030" stroke-width="0.05" text-anchor="middle" font-weight="normal" font-style="normal" textLength="10.74" lengthAdjust="spacingAndGlyphs">212</text>
<text x="317.50" y="411.00" font-size="7.0" fill="#303030" stroke="#303030" stroke-width="0.05" text-anchor="middle" font-weight="normal" font-style="normal" textLength="10.74" lengthAdjust="spacingAndGlyphs">214</text>
<text x="341.70" y="401.20" font-size="7.0" fill="#303030" stroke="#303030" stroke-width="0.05" text-anchor="middle" font-weight="normal" font-style="normal" textLength="10.74" lengthAdjust="spacingAndGlyphs">196</text>
<text x="341.70" y="411.00" font-size="7.0" fill="#303030" stroke="#303030" stroke-width="0.05" text-anchor="middle" font-weight="normal" font-style="normal" textLength="10.74" lengthAdjust="spacingAndGlyphs">201</text>
<text x="365.90" y="401.20" font-size="7.0" fill="#303030" stroke="#303030" stroke-width="0.05" text-anchor="middle" font-weight="normal" font-style="normal" textLength="10.74" lengthAdjust="spacingAndGlyphs">180</text>
<text x="365.90" y="411.00" font-size="7.0" fill="#303030" stroke="#303030" stroke-width="0.05" text-anchor="middle" font-weight="normal" font-style="normal" textLength="10.74" lengthAdjust="spacingAndGlyphs">189</text>
<text x="390.10" y="401.20" font-size="7.0" fill="#303030" stroke="#303030" stroke-width="0.05" text-anchor="middle" font-weight="normal" font-style="normal" textLength="10.74" lengthAdjust="spacingAndGlyphs">170</text>
<text x="390.10" y="411.00" font-size="7.0" fill="#303030" stroke="#303030" stroke-width="0.05" text-anchor="middle" font-weight="normal" font-style="normal" textLength="10.74" lengthAdjust="spacingAndGlyphs">176</text>
<text x="414.30" y="401.20" font-size="7.0" fill="#303030" stroke="#303030" stroke-width="0.05" text-anchor="middle" font-weight="normal" font-style="normal" textLength="10.74" lengthAdjust="spacingAndGlyphs">160</text>
<text x="414.30" y="411.00" font-size="7.0" fill="#303030" stroke="#303030" stroke-width="0.05" text-anchor="middle" font-weight="normal" font-style="normal" textLength="10.74" lengthAdjust="spacingAndGlyphs">161</text>
<text x="438.50" y="401.20" font-size="7.0" fill="#303030" stroke="#303030" stroke-width="0.05" text-anchor="middle" font-weight="normal" font-style="normal" textLength="10.74" lengthAdjust="spacingAndGlyphs">144</text>
<text x="438.50" y="411.00" font-size="7.0" fill="#303030" stroke="#303030" stroke-width="0.05" text-anchor="middle" font-weight="normal" font-style="normal" textLength="10.74" lengthAdjust="spacingAndGlyphs">136</text>
<text x="462.70" y="401.20" font-size="7.0" fill="#303030" stroke="#303030" stroke-width="0.05" text-anchor="middle" font-weight="normal" font-style="normal" textLength="10.74" lengthAdjust="spacingAndGlyphs">127</text>
<text x="462.70" y="411.00" font-size="7.0" fill="#303030" stroke="#303030" stroke-width="0.05" text-anchor="middle" font-weight="normal" font-style="normal" textLength="10.74" lengthAdjust="spacingAndGlyphs">109</text>
<text x="486.90" y="401.20" font-size="7.0" fill="#303030" stroke="#303030" stroke-width="0.05" text-anchor="middle" font-weight="normal" font-style="normal" textLength="7.16" lengthAdjust="spacingAndGlyphs">19</text>
<text x="486.90" y="411.00" font-size="7.0" fill="#303030" stroke="#303030" stroke-width="0.05" text-anchor="middle" font-weight="normal" font-style="normal" textLength="7.16" lengthAdjust="spacingAndGlyphs">15</text>
<path d="M317.50,366.80 H320.00 V365.50 H322.54 V365.26 H325.08 V365.02 H327.62 V364.78 H330.16 V364.54 H332.70 V364.30 H335.16 V364.30 H337.62 V364.30 H340.08 V364.30 H342.54 V364.30 H345.00 V364.30 H348.00 V362.55 H351.00 V360.80 H353.10 V360.37 H355.20 V359.93 H357.30 V359.50 H359.82 V359.36 H362.34 V359.21 H364.87 V359.07 H367.39 V358.92 H369.91 V358.78 H372.43 V358.63 H374.96 V358.49 H377.48 V358.34 H380.00 V358.20 H382.56 V358.10 H385.11 V358.00 H387.67 V357.90 H390.22 V357.80 H392.78 V357.70 H395.33 V357.60 H397.89 V357.50 H400.44 V357.40 H403.00 V357.30 H405.33 V357.03 H407.66 V356.76 H409.99 V356.49 H412.31 V356.21 H414.64 V355.94 H416.97 V355.67 H419.30 V355.40 H421.87 V355.20 H424.43 V355.00 H427.00 V354.80 H429.57 V354.60 H432.13 V354.40 H434.70 V354.20 H437.27 V354.00 H439.83 V353.80 H442.40 V353.60 H444.99 V353.48 H447.57 V353.35 H450.16 V353.23 H452.75 V353.10 H455.34 V352.98 H457.93 V352.85 H460.51 V352.73 H463.10 V352.60 H465.45 V352.25 H467.80 V351.90 H492.00" fill="none" stroke="#26497a" stroke-width="1.0" stroke-linejoin="miter" />
<path d="M317.50,366.80 H319.95 V366.78 H322.40 V366.76 H324.85 V366.74 H327.30 V366.72 H329.75 V366.70 H332.20 V366.68 H334.65 V366.66 H337.10 V366.64 H339.55 V366.62 H342.00 V366.60 H345.00 V364.60 H348.00 V363.00 H351.00 V362.90 H354.00 V362.80 H356.60 V362.80 H359.20 V362.80 H361.80 V362.80 H364.40 V362.80 H367.00 V362.80 H369.60 V362.80 H372.20 V362.80 H374.80 V362.80 H377.40 V362.80 H380.00 V362.80 H382.56 V362.70 H385.11 V362.60 H387.67 V362.50 H390.22 V362.40 H392.78 V362.30 H395.33 V362.20 H397.89 V362.10 H400.44 V362.00 H403.00 V361.90 H405.32 V361.62 H407.64 V361.34 H409.96 V361.06 H412.28 V360.78 H414.60 V360.50 H417.11 V360.40 H419.62 V360.30 H422.12 V360.20 H424.63 V360.10 H427.14 V360.00 H429.65 V359.90 H432.16 V359.80 H434.67 V359.70 H437.18 V359.60 H439.68 V359.50 H442.19 V359.40 H444.70 V359.30 H447.31 V359.14 H449.93 V358.99 H452.54 V358.83 H455.16 V358.67 H457.77 V358.51 H460.39 V358.36 H463.00 V358.20 H465.40 V357.95 H467.80 V357.70 H492.00" fill="none" stroke="#b91f3f" stroke-width="1.0" stroke-linejoin="miter" />
<line x1="322.00" y1="364.21" x2="322.00" y2="366.41" stroke="#26497a" stroke-width="0.8"/>
<line x1="329.00" y1="363.55" x2="329.00" y2="365.75" stroke="#26497a" stroke-width="0.8"/>
<line x1="336.00" y1="363.20" x2="336.00" y2="365.40" stroke="#26497a" stroke-width="0.8"/>
<line x1="343.00" y1="363.20" x2="343.00" y2="365.40" stroke="#26497a" stroke-width="0.8"/>
<line x1="350.00" y1="360.28" x2="350.00" y2="362.48" stroke="#26497a" stroke-width="0.8"/>
<line x1="357.00" y1="358.46" x2="357.00" y2="360.66" stroke="#26497a" stroke-width="0.8"/>
<line x1="364.00" y1="358.02" x2="364.00" y2="360.22" stroke="#26497a" stroke-width="0.8"/>
<line x1="371.00" y1="357.62" x2="371.00" y2="359.82" stroke="#26497a" stroke-width="0.8"/>
<line x1="378.00" y1="357.21" x2="378.00" y2="359.41" stroke="#26497a" stroke-width="0.8"/>
<line x1="385.00" y1="356.90" x2="385.00" y2="359.10" stroke="#26497a" stroke-width="0.8"/>
<line x1="392.00" y1="356.63" x2="392.00" y2="358.83" stroke="#26497a" stroke-width="0.8"/>
<line x1="399.00" y1="356.36" x2="399.00" y2="358.56" stroke="#26497a" stroke-width="0.8"/>
<line x1="406.00" y1="355.85" x2="406.00" y2="358.05" stroke="#26497a" stroke-width="0.8"/>
<line x1="413.00" y1="355.03" x2="413.00" y2="357.23" stroke="#26497a" stroke-width="0.8"/>
<line x1="420.00" y1="354.25" x2="420.00" y2="356.45" stroke="#26497a" stroke-width="0.8"/>
<line x1="427.00" y1="353.70" x2="427.00" y2="355.90" stroke="#26497a" stroke-width="0.8"/>
<line x1="434.00" y1="353.15" x2="434.00" y2="355.35" stroke="#26497a" stroke-width="0.8"/>
<line x1="441.00" y1="352.61" x2="441.00" y2="354.81" stroke="#26497a" stroke-width="0.8"/>
<line x1="448.00" y1="352.23" x2="448.00" y2="354.43" stroke="#26497a" stroke-width="0.8"/>
<line x1="455.00" y1="351.89" x2="455.00" y2="354.09" stroke="#26497a" stroke-width="0.8"/>
<line x1="458.00" y1="351.75" x2="458.00" y2="353.95" stroke="#26497a" stroke-width="0.8"/>
<line x1="460.00" y1="351.65" x2="460.00" y2="353.85" stroke="#26497a" stroke-width="0.8"/>
<line x1="462.00" y1="351.55" x2="462.00" y2="353.75" stroke="#26497a" stroke-width="0.8"/>
<line x1="464.00" y1="351.37" x2="464.00" y2="353.57" stroke="#26497a" stroke-width="0.8"/>
<line x1="466.00" y1="351.07" x2="466.00" y2="353.27" stroke="#26497a" stroke-width="0.8"/>
<line x1="468.00" y1="350.80" x2="468.00" y2="353.00" stroke="#26497a" stroke-width="0.8"/>
<line x1="470.00" y1="350.80" x2="470.00" y2="353.00" stroke="#26497a" stroke-width="0.8"/>
<line x1="472.00" y1="350.80" x2="472.00" y2="353.00" stroke="#26497a" stroke-width="0.8"/>
<line x1="474.00" y1="350.80" x2="474.00" y2="353.00" stroke="#26497a" stroke-width="0.8"/>
<line x1="476.00" y1="350.80" x2="476.00" y2="353.00" stroke="#26497a" stroke-width="0.8"/>
<line x1="478.00" y1="350.80" x2="478.00" y2="353.00" stroke="#26497a" stroke-width="0.8"/>
<line x1="480.00" y1="350.80" x2="480.00" y2="353.00" stroke="#26497a" stroke-width="0.8"/>
<line x1="482.00" y1="350.80" x2="482.00" y2="353.00" stroke="#26497a" stroke-width="0.8"/>
<line x1="484.00" y1="350.80" x2="484.00" y2="353.00" stroke="#26497a" stroke-width="0.8"/>
<line x1="486.00" y1="350.80" x2="486.00" y2="353.00" stroke="#26497a" stroke-width="0.8"/>
<line x1="488.00" y1="350.80" x2="488.00" y2="353.00" stroke="#26497a" stroke-width="0.8"/>
<line x1="490.00" y1="350.80" x2="490.00" y2="353.00" stroke="#26497a" stroke-width="0.8"/>
<line x1="350.00" y1="361.83" x2="350.00" y2="364.03" stroke="#b91f3f" stroke-width="0.8"/>
<line x1="357.00" y1="361.70" x2="357.00" y2="363.90" stroke="#b91f3f" stroke-width="0.8"/>
<line x1="364.00" y1="361.70" x2="364.00" y2="363.90" stroke="#b91f3f" stroke-width="0.8"/>
<line x1="371.00" y1="361.70" x2="371.00" y2="363.90" stroke="#b91f3f" stroke-width="0.8"/>
<line x1="378.00" y1="361.70" x2="378.00" y2="363.90" stroke="#b91f3f" stroke-width="0.8"/>
<line x1="385.00" y1="361.50" x2="385.00" y2="363.70" stroke="#b91f3f" stroke-width="0.8"/>
<line x1="392.00" y1="361.23" x2="392.00" y2="363.43" stroke="#b91f3f" stroke-width="0.8"/>
<line x1="399.00" y1="360.96" x2="399.00" y2="363.16" stroke="#b91f3f" stroke-width="0.8"/>
<line x1="406.00" y1="360.44" x2="406.00" y2="362.64" stroke="#b91f3f" stroke-width="0.8"/>
<line x1="413.00" y1="359.59" x2="413.00" y2="361.79" stroke="#b91f3f" stroke-width="0.8"/>
<line x1="420.00" y1="359.18" x2="420.00" y2="361.38" stroke="#b91f3f" stroke-width="0.8"/>
<line x1="427.00" y1="358.91" x2="427.00" y2="361.11" stroke="#b91f3f" stroke-width="0.8"/>
<line x1="434.00" y1="358.63" x2="434.00" y2="360.83" stroke="#b91f3f" stroke-width="0.8"/>
<line x1="441.00" y1="358.35" x2="441.00" y2="360.55" stroke="#b91f3f" stroke-width="0.8"/>
<line x1="448.00" y1="358.00" x2="448.00" y2="360.20" stroke="#b91f3f" stroke-width="0.8"/>
<line x1="455.00" y1="357.58" x2="455.00" y2="359.78" stroke="#b91f3f" stroke-width="0.8"/>
<line x1="458.00" y1="357.40" x2="458.00" y2="359.60" stroke="#b91f3f" stroke-width="0.8"/>
<line x1="460.00" y1="357.28" x2="460.00" y2="359.48" stroke="#b91f3f" stroke-width="0.8"/>
<line x1="462.00" y1="357.16" x2="462.00" y2="359.36" stroke="#b91f3f" stroke-width="0.8"/>
<line x1="464.00" y1="357.00" x2="464.00" y2="359.20" stroke="#b91f3f" stroke-width="0.8"/>
<line x1="466.00" y1="356.79" x2="466.00" y2="358.99" stroke="#b91f3f" stroke-width="0.8"/>
<line x1="468.00" y1="356.60" x2="468.00" y2="358.80" stroke="#b91f3f" stroke-width="0.8"/>
<line x1="470.00" y1="356.60" x2="470.00" y2="358.80" stroke="#b91f3f" stroke-width="0.8"/>
<line x1="472.00" y1="356.60" x2="472.00" y2="358.80" stroke="#b91f3f" stroke-width="0.8"/>
<line x1="474.00" y1="356.60" x2="474.00" y2="358.80" stroke="#b91f3f" stroke-width="0.8"/>
<line x1="476.00" y1="356.60" x2="476.00" y2="358.80" stroke="#b91f3f" stroke-width="0.8"/>
<line x1="478.00" y1="356.60" x2="478.00" y2="358.80" stroke="#b91f3f" stroke-width="0.8"/>
<line x1="480.00" y1="356.60" x2="480.00" y2="358.80" stroke="#b91f3f" stroke-width="0.8"/>
<line x1="482.00" y1="356.60" x2="482.00" y2="358.80" stroke="#b91f3f" stroke-width="0.8"/>
<line x1="484.00" y1="356.60" x2="484.00" y2="358.80" stroke="#b91f3f" stroke-width="0.8"/>
<line x1="486.00" y1="356.60" x2="486.00" y2="358.80" stroke="#b91f3f" stroke-width="0.8"/>
<line x1="488.00" y1="356.60" x2="488.00" y2="358.80" stroke="#b91f3f" stroke-width="0.8"/>
<line x1="490.00" y1="356.60" x2="490.00" y2="358.80" stroke="#b91f3f" stroke-width="0.8"/></svg>
</body></html>
